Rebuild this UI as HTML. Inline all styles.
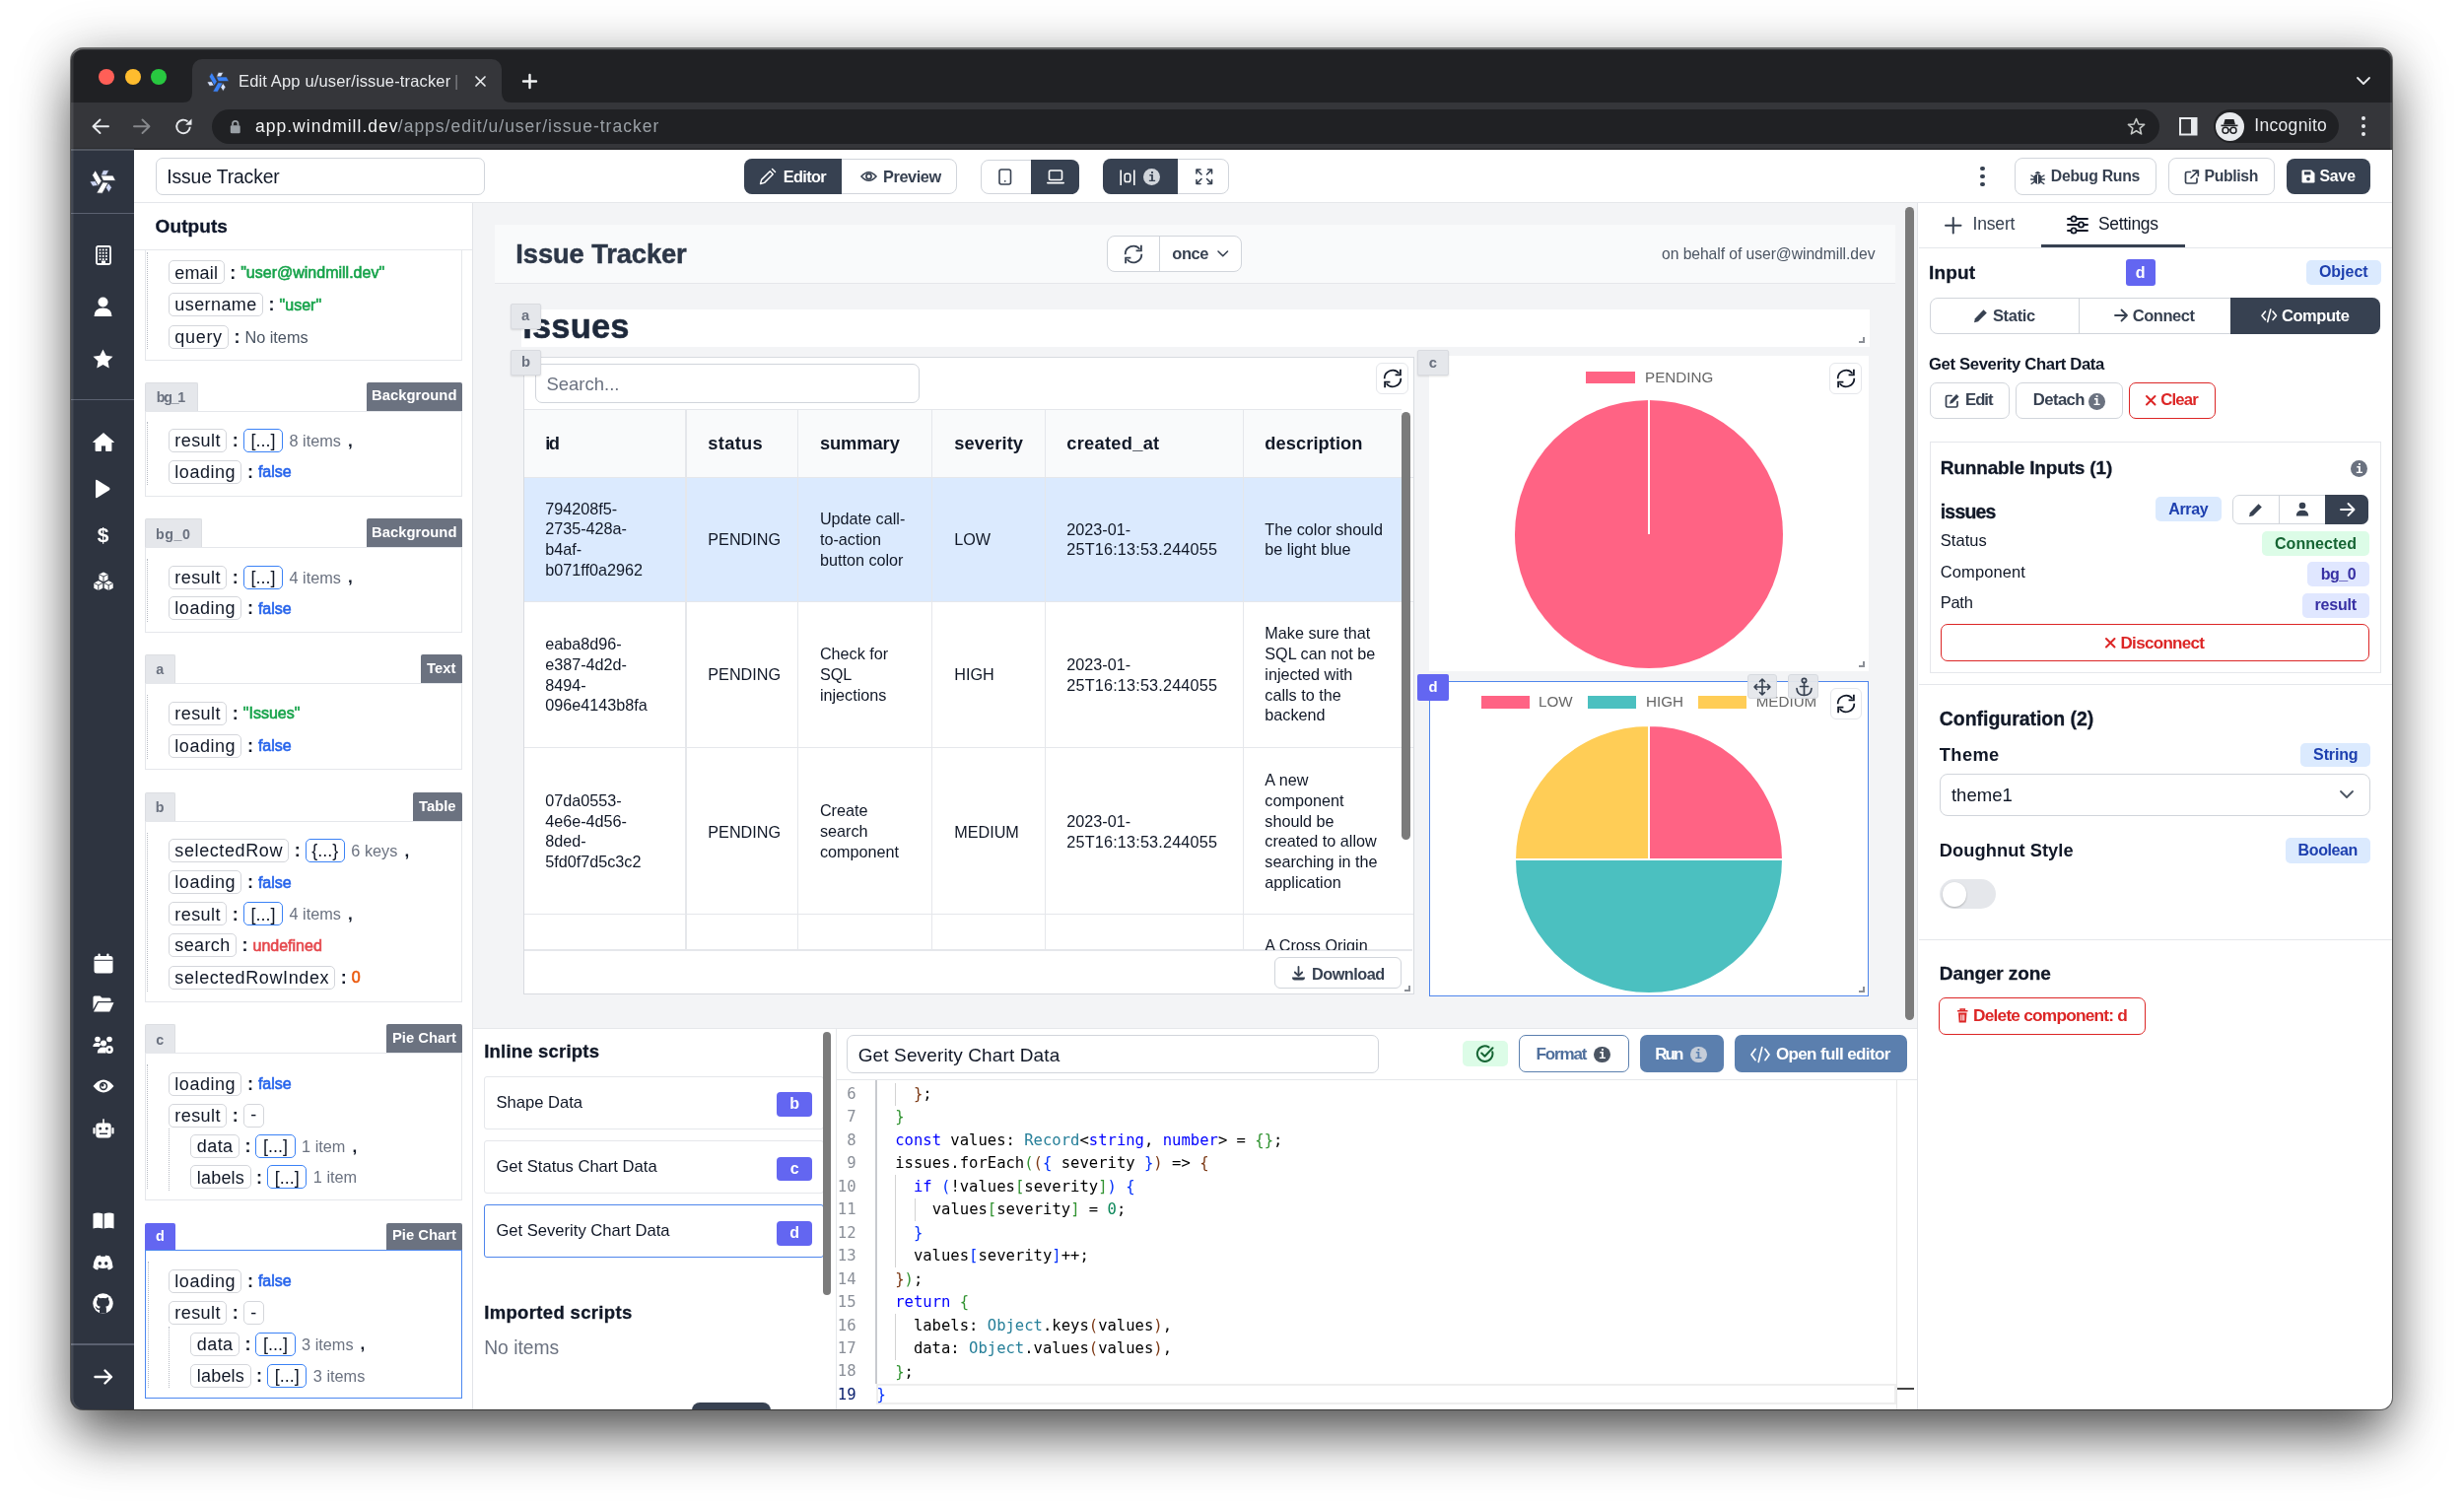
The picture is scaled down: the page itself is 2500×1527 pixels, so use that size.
<!DOCTYPE html>
<html><head><meta charset="utf-8"><title>Edit App u/user/issue-tracker</title>
<style>
html,body{margin:0;padding:0;}
body{width:2500px;height:1527px;overflow:hidden;background:#ffffff;position:relative;font-family:'Liberation Sans',Arial,sans-serif;}
.a{position:absolute;}
.t{position:absolute;white-space:pre;}
svg.a{overflow:visible;}
</style></head><body>
<div class="a" style="left:72.0px;top:49.0px;width:2355.0px;height:1381.0px;border-radius:12px;box-shadow:0 30px 56px -4px rgba(0,0,0,0.62), 0 2px 50px 4px rgba(0,0,0,0.18), 0 0 0 1px rgba(0,0,0,0.5);background:#202124;"></div>
<div class="a" id="win" style="left:0;top:0;width:2500px;height:1527px;clip-path:inset(49px 73px 97px 72px round 12px);will-change:transform;">
<div class="a" style="left:72.0px;top:49.0px;width:2355.0px;height:55.0px;background:#202124;"></div>
<div class="a" style="left:195.0px;top:60.0px;width:314.0px;height:45.0px;background:#35363a;border-radius:10px 10px 0 0;"></div>
<svg class="a" style="left:185.0px;top:94.0px;" width="10.0" height="10.0" viewBox="0 0 10.00 10.00"><path d="M0 10 Q10 10 10 0 L10 10 Z" fill="#35363a"/></svg>
<svg class="a" style="left:509.0px;top:94.0px;" width="10.0" height="10.0" viewBox="0 0 10.00 10.00"><path d="M10 10 Q0 10 0 0 L0 10 Z" fill="#35363a"/></svg>
<div class="a" style="left:100.3px;top:69.8px;width:16.0px;height:16.0px;background:#ff5f57;border-radius:50%;"></div>
<div class="a" style="left:126.5px;top:69.8px;width:16.0px;height:16.0px;background:#febc2e;border-radius:50%;"></div>
<div class="a" style="left:152.6px;top:69.8px;width:16.0px;height:16.0px;background:#28c840;border-radius:50%;"></div>
<svg class="a" style="left:205.0px;top:66.5px;transform:scale(0.84);transform-origin:16px 16px;" width="32.0" height="32.0" viewBox="-16 -16 32 32"><g transform="rotate(0)"><path d="M0.64 -11.27 L6.59 -11.27 L3.83 -5.95 L-1.7 -5.95 Z" fill="#d6e2fb" stroke="#35363a" stroke-width="0.7" stroke-linejoin="round"/><path d="M-1.91 -5.95 L10.63 -5.95 L13.4 -0.64 L0.64 -0.64 Z" fill="#3b82f6" stroke="#35363a" stroke-width="0.7" stroke-linejoin="round"/></g><g transform="rotate(120)"><path d="M0.64 -11.27 L6.59 -11.27 L3.83 -5.95 L-1.7 -5.95 Z" fill="#d6e2fb" stroke="#35363a" stroke-width="0.7" stroke-linejoin="round"/><path d="M-1.91 -5.95 L10.63 -5.95 L13.4 -0.64 L0.64 -0.64 Z" fill="#3b82f6" stroke="#35363a" stroke-width="0.7" stroke-linejoin="round"/></g><g transform="rotate(240)"><path d="M0.64 -11.27 L6.59 -11.27 L3.83 -5.95 L-1.7 -5.95 Z" fill="#d6e2fb" stroke="#35363a" stroke-width="0.7" stroke-linejoin="round"/><path d="M-1.91 -5.95 L10.63 -5.95 L13.4 -0.64 L0.64 -0.64 Z" fill="#3b82f6" stroke="#35363a" stroke-width="0.7" stroke-linejoin="round"/></g></svg>
<div class="t" style="left:242.0px;top:73.5px;font-size:16.5px;line-height:16.5px;font-weight:400;color:#e8eaed;font-family:'Liberation Sans', Arial, sans-serif;letter-spacing:0.15px;">Edit App u/user/issue-tracker</div>
<div class="t" style="left:461.0px;top:73.5px;font-size:16.5px;line-height:16.5px;font-weight:400;color:#7d7f83;font-family:'Liberation Sans', Arial, sans-serif;">|</div>
<svg class="a" style="left:482.0px;top:77.0px;" width="11.0" height="11.0" viewBox="0 0 11.00 11.00"><path d="M1 1 L10 10 M10 1 L1 10" stroke="#e8eaed" stroke-width="1.7" stroke-linecap="round"/></svg>
<svg class="a" style="left:529.5px;top:74.5px;" width="15.0" height="15.0" viewBox="0 0 15.00 15.00"><path d="M7.5 1 V14 M1 7.5 H14" stroke="#f1f3f4" stroke-width="2.4" stroke-linecap="round"/></svg>
<svg class="a" style="left:2391.0px;top:78.0px;" width="14.0" height="8.0" viewBox="0 0 14.00 8.00"><path d="M1 1 L7 7 L13 1" stroke="#e8eaed" stroke-width="1.8" fill="none" stroke-linecap="round" stroke-linejoin="round"/></svg>
<div class="a" style="left:72.0px;top:104.0px;width:2355.0px;height:48.0px;background:#35363a;"></div>
<div class="a" style="left:72.0px;top:150.4px;width:2355.0px;height:1.2px;background:#2c2d30;"></div>
<svg class="a" style="left:93.0px;top:119.5px;" width="18.0" height="16.5" viewBox="0 0 18.00 16.50"><path d="M17 8.25 H2 M8.5 1.5 L1.5 8.25 L8.5 15" stroke="#e8eaed" stroke-width="1.9" fill="none" stroke-linecap="round" stroke-linejoin="round"/></svg>
<svg class="a" style="left:135.0px;top:119.5px;" width="18.0" height="16.5" viewBox="0 0 18.00 16.50"><path d="M1 8.25 H16 M9.5 1.5 L16.5 8.25 L9.5 15" stroke="#86888c" stroke-width="1.9" fill="none" stroke-linecap="round" stroke-linejoin="round"/></svg>
<svg class="a" style="left:176.5px;top:118.5px;" width="19.0" height="19.0" viewBox="0 0 19.00 19.00"><path d="M15.8 9.8 A6.8 6.8 0 1 1 13.6 4.4" stroke="#e8eaed" stroke-width="1.9" fill="none"/><path d="M17.5 1.5 V7.8 H11.2 Z" fill="#e8eaed"/></svg>
<div class="a" style="left:215.0px;top:110.5px;width:1976.0px;height:35.0px;background:#202124;border-radius:18px;"></div>
<svg class="a" style="left:232.5px;top:121.0px;" width="11.5" height="14.5" viewBox="0 0 11.50 14.50"><path d="M3 6.5 V4.6 A2.75 2.75 0 0 1 8.5 4.6 V6.5" stroke="#9aa0a6" stroke-width="1.7" fill="none"/><rect x="0.8" y="6.3" width="9.9" height="8" rx="1.3" fill="#9aa0a6"/></svg>
<div class="t" style="left:259.0px;top:119.6px;font-size:17.5px;line-height:17.5px;font-weight:400;color:#f4f5f6;font-family:'Liberation Sans', Arial, sans-serif;letter-spacing:1.01px;">app.windmill.dev</div>
<div class="t" style="left:403.8px;top:119.6px;font-size:17.5px;line-height:17.5px;font-weight:400;color:#9aa0a6;font-family:'Liberation Sans', Arial, sans-serif;letter-spacing:1.00px;">/apps/edit/u/user/issue-tracker</div>
<svg class="a" style="left:2158.0px;top:119.0px;" width="19.0" height="19.0" viewBox="0 0 19.00 19.00"><path d="M9.5 1.6 L11.8 7 L17.6 7.4 L13.2 11.2 L14.6 16.9 L9.5 13.8 L4.4 16.9 L5.8 11.2 L1.4 7.4 L7.2 7 Z" stroke="#c4c7c5" stroke-width="1.6" fill="none" stroke-linejoin="round"/></svg>
<svg class="a" style="left:2211.0px;top:118.5px;" width="18.5" height="18.5" viewBox="0 0 18.50 18.50"><rect x="1" y="1" width="16.5" height="16.5" fill="none" stroke="#e8eaed" stroke-width="2"/><rect x="12" y="1" width="5.5" height="16.5" fill="#e8eaed"/></svg>
<div class="a" style="left:2246.0px;top:111.4px;width:126.5px;height:33.5px;background:#202124;border-radius:17px;"></div>
<div class="a" style="left:2247.5px;top:113.5px;width:29.0px;height:29.0px;background:#e8eaed;border-radius:50%;"></div>
<svg class="a" style="left:2250.0px;top:116.0px;" width="24.0" height="24.0" viewBox="0 0 24.00 24.00"><path d="M7.5 5 L16.5 5 L18 10.5 L6 10.5 Z" fill="#202124"/><rect x="3.5" y="10.6" width="17" height="1.6" fill="#202124"/><circle cx="8" cy="16.3" r="3" fill="none" stroke="#202124" stroke-width="1.5"/><circle cx="16" cy="16.3" r="3" fill="none" stroke="#202124" stroke-width="1.5"/><path d="M11 16 Q12 15.2 13 16" stroke="#202124" stroke-width="1.3" fill="none"/></svg>
<div class="t" style="left:2287.2px;top:119.4px;font-size:17.5px;line-height:17.5px;font-weight:400;color:#e8eaed;font-family:'Liberation Sans', Arial, sans-serif;letter-spacing:0.33px;">Incognito</div>
<div class="a" style="left:2396.1px;top:118.1px;width:3.8px;height:3.8px;background:#e8eaed;border-radius:50%;"></div>
<div class="a" style="left:2396.1px;top:126.1px;width:3.8px;height:3.8px;background:#e8eaed;border-radius:50%;"></div>
<div class="a" style="left:2396.1px;top:134.1px;width:3.8px;height:3.8px;background:#e8eaed;border-radius:50%;"></div>
<div class="a" style="left:72.0px;top:151.8px;width:2355.0px;height:1278.2px;background:#ffffff;"></div>
<div class="a" style="left:136.0px;top:151.8px;width:2291.0px;height:53.2px;background:#ffffff;border-bottom:1px solid #e5e7eb;"></div>
<div class="a" style="left:157.6px;top:159.8px;width:334.4px;height:37.9px;border:1px solid #d1d5db;border-radius:7px;background:#fff;box-sizing:border-box;"></div>
<div class="t" style="left:169.2px;top:169.8px;font-size:19.3px;line-height:19.3px;font-weight:400;color:#111827;font-family:'Liberation Sans', Arial, sans-serif;letter-spacing:-0.10px;">Issue Tracker</div>
<div class="a" style="left:755.0px;top:161.0px;width:216.0px;height:36.0px;border:1px solid #d1d5db;border-radius:8px;background:#fff;box-sizing:border-box;"></div>
<div class="a" style="left:754.5px;top:161.0px;width:99.5px;height:36.0px;background:#374151;border-radius:8px 0 0 8px;"></div>
<svg class="a" style="left:770.3px;top:170.3px;" width="18.0" height="18.0" viewBox="0 0 24 24"><g stroke="#fff" stroke-width="1.9" fill="none" stroke-linecap="round" stroke-linejoin="round"><path d="M18 2 L22 6"/><path d="M7.5 20.5 L19 9 L15 5 L3.5 16.5 L2 22 Z"/></g></svg>
<div class="t" style="left:794.8px;top:170.7px;font-size:16.3px;line-height:16.3px;font-weight:700;color:#ffffff;font-family:'Liberation Sans', Arial, sans-serif;letter-spacing:-0.66px;">Editor</div>
<svg class="a" style="left:872.5px;top:173.0px;" width="17.0" height="12.0" viewBox="0 0 17.00 12.00"><path d="M1 6 Q8.5 -2.5 16 6 Q8.5 14.5 1 6 Z" stroke="#374151" stroke-width="1.6" fill="none"/><circle cx="8.5" cy="6" r="2.6" stroke="#374151" stroke-width="1.6" fill="none"/></svg>
<div class="t" style="left:896.0px;top:170.7px;font-size:16.3px;line-height:16.3px;font-weight:700;color:#374151;font-family:'Liberation Sans', Arial, sans-serif;letter-spacing:-0.40px;">Preview</div>
<div class="a" style="left:995.0px;top:161.5px;width:100.0px;height:35.0px;border:1px solid #d1d5db;border-radius:8px;background:#fff;box-sizing:border-box;"></div>
<div class="a" style="left:1046.0px;top:161.5px;width:49.0px;height:35.0px;background:#374151;border-radius:0 8px 8px 0;"></div>
<svg class="a" style="left:1013.0px;top:171.0px;" width="14.0" height="17.0" viewBox="0 0 14.00 17.00"><rect x="1" y="1" width="11.5" height="15" rx="2" stroke="#374151" stroke-width="1.6" fill="none"/><circle cx="6.75" cy="12.8" r="0.9" fill="#374151"/></svg>
<svg class="a" style="left:1062.0px;top:172.0px;" width="18.0" height="15.0" viewBox="0 0 18.00 15.00"><rect x="2.5" y="1" width="13" height="9.5" rx="1.3" stroke="#fff" stroke-width="1.6" fill="none"/><path d="M0.8 13.6 H17.2" stroke="#fff" stroke-width="1.6" stroke-linecap="round"/></svg>
<div class="a" style="left:1119.0px;top:161.0px;width:128.0px;height:36.0px;border:1px solid #d1d5db;border-radius:8px;background:#fff;box-sizing:border-box;"></div>
<div class="a" style="left:1119.0px;top:161.0px;width:76.0px;height:36.0px;background:#374151;border-radius:8px 0 0 8px;"></div>
<svg class="a" style="left:1136.0px;top:171.5px;" width="16.0" height="16.5" viewBox="0 0 16.00 16.50"><path d="M1.2 0.5 V16 M14.8 0.5 V16" stroke="#fff" stroke-width="1.6"/><rect x="5.2" y="4.2" width="5.6" height="8.4" rx="1.8" stroke="#fff" stroke-width="1.5" fill="none"/></svg>
<div class="a" style="left:1160.2px;top:171.2px;width:17.0px;height:17.0px;background:#d1d5db;border-radius:50%;"></div>
<div class="t" style="left:1164.9px;top:173.8px;font-size:12.5px;line-height:12.5px;font-weight:700;color:#374151;font-family:'DejaVu Sans Mono', 'Liberation Mono', monospace;">i</div>
<svg class="a" style="left:1212.5px;top:171.0px;" width="17.5" height="16.5" viewBox="0 0 17.50 16.50"><g stroke="#374151" stroke-width="1.6" fill="none" stroke-linecap="round" stroke-linejoin="round"><path d="M1 5 V1 H5 M1 1 L6 6"/><path d="M16.5 5 V1 H12.5 M16.5 1 L11.5 6"/><path d="M1 11.5 V15.5 H5 M1 15.5 L6 10.5"/><path d="M16.5 11.5 V15.5 H12.5 M16.5 15.5 L11.5 10.5"/></g></svg>
<div class="a" style="left:2009.4px;top:169.0px;width:4.4px;height:4.4px;background:#374151;border-radius:50%;"></div>
<div class="a" style="left:2009.4px;top:177.0px;width:4.4px;height:4.4px;background:#374151;border-radius:50%;"></div>
<div class="a" style="left:2009.4px;top:185.0px;width:4.4px;height:4.4px;background:#374151;border-radius:50%;"></div>
<div class="a" style="left:2043.5px;top:160.0px;width:144.5px;height:38.0px;border:1px solid #d1d5db;border-radius:8px;background:#fff;box-sizing:border-box;"></div>
<svg class="a" style="left:2060.0px;top:171.5px;" width="15.0" height="15.5" viewBox="0 0 15.00 15.50"><g fill="#374151"><ellipse cx="7.5" cy="9.5" rx="4.2" ry="5.3"/><path d="M4.5 4 Q7.5 0.2 10.5 4 Z"/></g><g stroke="#374151" stroke-width="1.4" stroke-linecap="round"><path d="M1 6 L3.6 7.5 M14 6 L11.4 7.5 M0.6 10 H3.4 M14.4 10 H11.6 M1.2 14.5 L3.8 12.6 M13.8 14.5 L11.2 12.6"/></g><path d="M7.5 5.5 V14.5" stroke="#fff" stroke-width="1"/></svg>
<div class="t" style="left:2080.8px;top:171.4px;font-size:15.8px;line-height:15.8px;font-weight:700;color:#374151;font-family:'Liberation Sans', Arial, sans-serif;letter-spacing:-0.27px;">Debug Runs</div>
<div class="a" style="left:2199.7px;top:160.0px;width:108.6px;height:38.0px;border:1px solid #d1d5db;border-radius:8px;background:#fff;box-sizing:border-box;"></div>
<svg class="a" style="left:2215.5px;top:171.5px;" width="15.5" height="15.5" viewBox="0 0 15.50 15.50"><g stroke="#374151" stroke-width="1.7" fill="none" stroke-linecap="round" stroke-linejoin="round"><path d="M6.5 2.5 H3 Q1.5 2.5 1.5 4 V12.5 Q1.5 14 3 14 H11.5 Q13 14 13 12.5 V9"/><path d="M9 1.2 H14.3 V6.5 M14.3 1.2 L7 8.5"/></g></svg>
<div class="t" style="left:2236.6px;top:171.4px;font-size:15.8px;line-height:15.8px;font-weight:700;color:#374151;font-family:'Liberation Sans', Arial, sans-serif;letter-spacing:-0.38px;">Publish</div>
<div class="a" style="left:2319.7px;top:161.0px;width:85.8px;height:35.6px;background:#374151;border-radius:8px;"></div>
<svg class="a" style="left:2335.0px;top:172.0px;" width="14.0" height="14.0" viewBox="0 0 14.00 14.00"><path d="M1.8 0.5 H10.2 L13.5 3.8 V12.2 Q13.5 13.5 12.2 13.5 H1.8 Q0.5 13.5 0.5 12.2 V1.8 Q0.5 0.5 1.8 0.5 Z" fill="#fff"/><rect x="3" y="2.2" width="6.5" height="3.2" fill="#374151"/><circle cx="7" cy="9.6" r="1.9" fill="#374151"/></svg>
<div class="t" style="left:2353.4px;top:171.4px;font-size:15.8px;line-height:15.8px;font-weight:700;color:#ffffff;font-family:'Liberation Sans', Arial, sans-serif;letter-spacing:-0.10px;">Save</div>
<div class="a" style="left:72.0px;top:152.5px;width:64.0px;height:1277.5px;background:#2e3440;"></div>
<div class="a" style="left:72.0px;top:151.3px;width:64.0px;height:1.3px;background:#50555f;"></div>
<div class="a" style="left:72.0px;top:215.5px;width:64.0px;height:1.3px;background:#5b6170;"></div>
<div class="a" style="left:72.0px;top:405.2px;width:64.0px;height:1.3px;background:#5b6170;"></div>
<div class="a" style="left:72.0px;top:1363.3px;width:64.0px;height:1.3px;background:#5b6170;"></div>
<svg class="a" style="left:88.4px;top:167.9px;" width="32.0" height="32.0" viewBox="-16 -16 32 32"><g transform="rotate(0)"><path d="M0.64 -11.27 L6.59 -11.27 L3.83 -5.95 L-1.7 -5.95 Z" fill="#cdd6f4" stroke="#2e3440" stroke-width="0.7" stroke-linejoin="round"/><path d="M-1.91 -5.95 L10.63 -5.95 L13.4 -0.64 L0.64 -0.64 Z" fill="#ffffff" stroke="#2e3440" stroke-width="0.7" stroke-linejoin="round"/></g><g transform="rotate(120)"><path d="M0.64 -11.27 L6.59 -11.27 L3.83 -5.95 L-1.7 -5.95 Z" fill="#cdd6f4" stroke="#2e3440" stroke-width="0.7" stroke-linejoin="round"/><path d="M-1.91 -5.95 L10.63 -5.95 L13.4 -0.64 L0.64 -0.64 Z" fill="#ffffff" stroke="#2e3440" stroke-width="0.7" stroke-linejoin="round"/></g><g transform="rotate(240)"><path d="M0.64 -11.27 L6.59 -11.27 L3.83 -5.95 L-1.7 -5.95 Z" fill="#cdd6f4" stroke="#2e3440" stroke-width="0.7" stroke-linejoin="round"/><path d="M-1.91 -5.95 L10.63 -5.95 L13.4 -0.64 L0.64 -0.64 Z" fill="#ffffff" stroke="#2e3440" stroke-width="0.7" stroke-linejoin="round"/></g></svg>
<svg class="a" style="left:96.5px;top:248.6px;" width="16.0" height="20.0" viewBox="0 0 16.00 20.00"><rect x="1" y="1" width="14" height="18" rx="1.5" fill="none" stroke="#fff" stroke-width="1.8"/><rect x="3.6" y="3.6" width="1.8" height="1.8" fill="#fff"/><rect x="3.6" y="6.8" width="1.8" height="1.8" fill="#fff"/><rect x="3.6" y="10.0" width="1.8" height="1.8" fill="#fff"/><rect x="3.6" y="13.2" width="1.8" height="1.8" fill="#fff"/><rect x="6.8" y="3.6" width="1.8" height="1.8" fill="#fff"/><rect x="6.8" y="6.8" width="1.8" height="1.8" fill="#fff"/><rect x="6.8" y="10.0" width="1.8" height="1.8" fill="#fff"/><rect x="6.8" y="13.2" width="1.8" height="1.8" fill="#fff"/><rect x="10.0" y="3.6" width="1.8" height="1.8" fill="#fff"/><rect x="10.0" y="6.8" width="1.8" height="1.8" fill="#fff"/><rect x="10.0" y="10.0" width="1.8" height="1.8" fill="#fff"/><rect x="10.0" y="13.2" width="1.8" height="1.8" fill="#fff"/><rect x="6" y="15.5" width="4" height="3.5" fill="#fff"/></svg>
<svg class="a" style="left:95.0px;top:300.5px;" width="19.0" height="20.0" viewBox="0 0 19.00 20.00"><circle cx="9.5" cy="5.5" r="5" fill="#fff"/><path d="M0.5 20 Q0.5 11.5 9.5 11.5 Q18.5 11.5 18.5 20 Z" fill="#fff"/></svg>
<svg class="a" style="left:94.0px;top:354.0px;" width="21.0" height="20.0" viewBox="0 0 21.00 20.00"><path d="M10.5 0.5 L13.6 6.8 L20.5 7.7 L15.5 12.5 L16.7 19.5 L10.5 16.1 L4.3 19.5 L5.5 12.5 L0.5 7.7 L7.4 6.8 Z" fill="#fff"/></svg>
<svg class="a" style="left:93.5px;top:438.8px;" width="22.0" height="19.0" viewBox="0 0 22.00 19.00"><path d="M11 0.5 L21.5 9.5 L19 9.5 L19 18.5 L13.5 18.5 L13.5 13 L8.5 13 L8.5 18.5 L3 18.5 L3 9.5 L0.5 9.5 Z" fill="#fff" stroke="#fff" stroke-width="0.8" stroke-linejoin="round"/></svg>
<svg class="a" style="left:96.3px;top:485.8px;" width="16.0" height="20.0" viewBox="0 0 16.00 20.00"><path d="M2.5 1 Q1 0.2 1 2 V18 Q1 19.8 2.5 19 L15 11.2 Q16.2 10 15 8.8 Z" fill="#fff"/></svg>
<div class="t" style="left:98.7px;top:531.7px;font-size:21px;line-height:21px;font-weight:700;color:#fff;font-family:'Liberation Sans', Arial, sans-serif;">$</div>
<svg class="a" style="left:93.5px;top:580.0px;" width="22.0" height="20.0" viewBox="0 0 22.00 20.00"><g fill="#fff"><path d="M11 0.5 L15.5 2.8 L15.5 8 L11 10.2 L6.5 8 L6.5 2.8 Z"/><path d="M5.8 9.2 L10.3 11.5 L10.3 16.8 L5.8 19 L1.3 16.8 L1.3 11.5 Z"/><path d="M16.2 9.2 L20.7 11.5 L20.7 16.8 L16.2 19 L11.7 16.8 L11.7 11.5 Z"/></g><g stroke="#2e3440" stroke-width="0.9" fill="none"><path d="M6.5 2.8 L11 5 L15.5 2.8 M11 5 V10"/><path d="M1.3 11.5 L5.8 13.7 L10.3 11.5 M5.8 13.7 V19"/><path d="M11.7 11.5 L16.2 13.7 L20.7 11.5 M16.2 13.7 V19"/></g></svg>
<svg class="a" style="left:94.5px;top:966.5px;" width="20.0" height="21.0" viewBox="0 0 20.00 21.00"><rect x="0.5" y="3" width="19" height="17.5" rx="2.5" fill="#fff"/><rect x="4.5" y="0.5" width="2.2" height="5" rx="1" fill="#fff"/><rect x="13.3" y="0.5" width="2.2" height="5" rx="1" fill="#fff"/><rect x="0.5" y="6.8" width="19" height="1" fill="#2e3440"/></svg>
<svg class="a" style="left:93.5px;top:1010.2px;" width="22.0" height="17.0" viewBox="0 0 22.00 17.00"><path d="M0.5 2 Q0.5 0.5 2 0.5 H7.5 L9.5 2.5 H17 Q18.5 2.5 18.5 4 V6 H5 L0.5 14 Z" fill="#fff"/><path d="M5.8 7.3 H21.5 L17.2 16.5 H1 Z" fill="#fff"/></svg>
<svg class="a" style="left:93.5px;top:1051.4px;" width="22.0" height="18.0" viewBox="0 0 22.00 18.00"><g fill="#fff"><circle cx="5" cy="3.5" r="2.8"/><circle cx="17" cy="3.5" r="2.8"/><path d="M0.3 11 Q0.3 7 5 7 Q7.5 7 8.6 8.6 Q7 9.8 6.8 11 Z"/><circle cx="11" cy="7.6" r="3"/><path d="M4.8 17.5 Q4.8 11.5 11 11.5 Q13 11.5 14.2 12.2 Q12.8 14 13.6 17.5 Z"/><circle cx="17" cy="14" r="3.9"/></g><circle cx="17" cy="14" r="1.4" fill="#2e3440"/></svg>
<svg class="a" style="left:93.5px;top:1094.0px;" width="22.0" height="16.0" viewBox="0 0 22.00 16.00"><path d="M0.5 8 Q11 -5 21.5 8 Q11 21 0.5 8 Z" fill="#fff"/><circle cx="11" cy="8" r="4.2" fill="#2e3440"/><circle cx="11" cy="8" r="2.6" fill="#fff"/><circle cx="10" cy="7" r="1.6" fill="#2e3440"/></svg>
<svg class="a" style="left:93.5px;top:1134.5px;" width="22.0" height="20.0" viewBox="0 0 22.00 20.00"><rect x="3.3" y="4.5" width="15.4" height="15" rx="3" fill="#fff"/><rect x="10.2" y="0.3" width="1.6" height="5" fill="#fff"/><rect x="0.4" y="9" width="2.2" height="6.5" rx="1" fill="#fff"/><rect x="19.4" y="9" width="2.2" height="6.5" rx="1" fill="#fff"/><circle cx="7.7" cy="10" r="1.5" fill="#2e3440"/><circle cx="14.3" cy="10" r="1.5" fill="#2e3440"/><rect x="7" y="14.6" width="8" height="1.4" fill="#2e3440"/></svg>
<svg class="a" style="left:93.5px;top:1229.5px;" width="22.0" height="17.0" viewBox="0 0 22.00 17.00"><path d="M0.5 1.5 Q5 -0.3 10.3 1.5 V16.5 Q5 15 0.5 16.5 Z" fill="#fff"/><path d="M21.5 1.5 Q17 -0.3 11.7 1.5 V16.5 Q17 15 21.5 16.5 Z" fill="#fff"/></svg>
<svg class="a" style="left:94.0px;top:1273.0px;" width="21.0" height="16.0" viewBox="0 0 21.00 16.00"><path d="M4 1.5 Q7 0.3 8 0.8 L8.6 2 Q10.5 1.7 12.4 2 L13 0.8 Q14 0.3 17 1.5 Q20.5 7 20.6 13 Q18.5 15 16 15.5 L14.8 13.6 Q16.3 13 17 12.3 Q10.5 15.5 4 12.3 Q4.7 13 6.2 13.6 L5 15.5 Q2.5 15 0.4 13 Q0.5 7 4 1.5 Z" fill="#fff"/><ellipse cx="7.3" cy="8.8" rx="1.7" ry="1.9" fill="#2e3440"/><ellipse cx="13.7" cy="8.8" rx="1.7" ry="1.9" fill="#2e3440"/></svg>
<svg class="a" style="left:94.0px;top:1311.5px;" width="21.0" height="21.0" viewBox="0 0 21.00 21.00"><circle cx="10.5" cy="10.5" r="10.2" fill="#fff"/><path d="M7 20.5 V17 Q4 17.5 3.3 15 Q3 14 2.2 13.6 Q3.5 13.2 4.3 14.5 Q5.3 15.8 7.2 15.2 Q7.3 14.3 7.9 13.8 Q4 13.3 4 9.3 Q4 7.7 5 6.8 Q4.6 5.5 5.1 4.2 Q6.4 4.2 7.6 5.3 Q10.5 4.5 13.4 5.3 Q14.6 4.2 15.9 4.2 Q16.4 5.5 16 6.8 Q17 7.7 17 9.3 Q17 13.3 13.1 13.8 Q13.9 14.5 13.9 15.8 V20.5 Z" fill="#2e3440"/></svg>
<svg class="a" style="left:94.5px;top:1389.2px;" width="20.0" height="16.0" viewBox="0 0 20.00 16.00"><path d="M1.5 8 H18 M11.5 1.5 L18 8 L11.5 14.5" stroke="#fff" stroke-width="2.4" fill="none" stroke-linecap="round" stroke-linejoin="round"/></svg>
<div class="a" style="left:136.0px;top:205.5px;width:344.0px;height:1224.5px;background:#ffffff;border-right:1.5px solid #e2e4e8;box-sizing:border-box;"></div>
<div class="a" style="left:147.0px;top:240.0px;width:321.6px;height:126.0px;border:1.3px solid #e5e7eb;background:#fff;box-sizing:border-box;"></div>
<div class="a" style="left:148.8px;top:256.0px;width:1.0px;height:98.0px;border-left:1px dotted #b8bcc4;"></div>
<div class="a" style="left:136.0px;top:205.5px;width:342.5px;height:48.8px;background:#fff;border-bottom:1.3px solid #e5e7eb;box-sizing:border-box;"></div>
<div class="t" style="left:157.6px;top:220.4px;font-size:19px;line-height:19px;font-weight:700;color:#0f172a;font-family:'Liberation Sans', Arial, sans-serif;letter-spacing:0.08px;-webkit-text-stroke:0.3px #0f172a;">Outputs</div>
<div class="a" style="left:170.5px;top:264.4px;width:57.2px;height:24.0px;border:1px solid #d4d6db;border-radius:5px;background:#fff;box-sizing:border-box;"></div>
<div class="t" style="left:177.3px;top:267.5px;font-size:18px;line-height:18px;font-weight:400;color:#111827;font-family:'Liberation Sans', Arial, sans-serif;letter-spacing:0.15px;">email</div>
<div class="t" style="left:233.2px;top:267.5px;font-size:18px;line-height:18px;font-weight:700;color:#111827;font-family:'Liberation Sans', Arial, sans-serif;">:</div>
<div class="t" style="left:244.2px;top:268.7px;font-size:16px;line-height:16px;font-weight:400;color:#16a34a;font-family:'Liberation Sans', Arial, sans-serif;-webkit-text-stroke:0.6px #16a34a;">"user@windmill.dev"</div>
<div class="a" style="left:170.5px;top:297.3px;width:96.6px;height:24.0px;border:1px solid #d4d6db;border-radius:5px;background:#fff;box-sizing:border-box;"></div>
<div class="t" style="left:177.3px;top:300.4px;font-size:18px;line-height:18px;font-weight:400;color:#111827;font-family:'Liberation Sans', Arial, sans-serif;letter-spacing:0.42px;">username</div>
<div class="t" style="left:272.6px;top:300.4px;font-size:18px;line-height:18px;font-weight:700;color:#111827;font-family:'Liberation Sans', Arial, sans-serif;">:</div>
<div class="t" style="left:283.6px;top:301.6px;font-size:16px;line-height:16px;font-weight:400;color:#16a34a;font-family:'Liberation Sans', Arial, sans-serif;-webkit-text-stroke:0.6px #16a34a;">"user"</div>
<div class="a" style="left:170.5px;top:330.0px;width:61.4px;height:24.0px;border:1px solid #d4d6db;border-radius:5px;background:#fff;box-sizing:border-box;"></div>
<div class="t" style="left:177.3px;top:333.1px;font-size:18px;line-height:18px;font-weight:400;color:#111827;font-family:'Liberation Sans', Arial, sans-serif;letter-spacing:0.69px;">query</div>
<div class="t" style="left:237.4px;top:333.1px;font-size:18px;line-height:18px;font-weight:700;color:#111827;font-family:'Liberation Sans', Arial, sans-serif;">:</div>
<div class="t" style="left:248.4px;top:334.0px;font-size:16.3px;line-height:16.3px;font-weight:400;color:#4b5563;font-family:'Liberation Sans', Arial, sans-serif;">No items</div>
<div class="a" style="left:147.0px;top:387.7px;width:53.6px;height:29.3px;background:#e5e7eb;border:1px solid #dcdee2;border-bottom:none;border-radius:2px 2px 0 0;box-sizing:border-box;"></div>
<div class="t" style="left:158.7px;top:395.9px;font-size:14.3px;line-height:14.3px;font-weight:700;color:#6b7280;font-family:'Liberation Sans', Arial, sans-serif;letter-spacing:-1.26px;">bg_1</div>
<div class="a" style="left:372.0px;top:387.7px;width:96.6px;height:29.3px;background:#6b7280;border-radius:2px 2px 0 0;"></div>
<div class="t" style="left:377.1px;top:394.3px;font-size:14.8px;line-height:14.8px;font-weight:700;color:#ffffff;font-family:'Liberation Sans', Arial, sans-serif;">Background</div>
<div class="a" style="left:147.0px;top:416.5px;width:321.6px;height:87.2px;border:1.3px solid #e5e7eb;background:#fff;box-sizing:border-box;"></div>
<div class="a" style="left:148.8px;top:428.0px;width:1.0px;height:64.0px;border-left:1px dotted #b8bcc4;"></div>
<div class="a" style="left:170.5px;top:435.3px;width:59.8px;height:24.0px;border:1px solid #d4d6db;border-radius:5px;background:#fff;box-sizing:border-box;"></div>
<div class="t" style="left:177.3px;top:438.4px;font-size:18px;line-height:18px;font-weight:400;color:#111827;font-family:'Liberation Sans', Arial, sans-serif;letter-spacing:0.44px;">result</div>
<div class="t" style="left:235.8px;top:438.4px;font-size:18px;line-height:18px;font-weight:700;color:#111827;font-family:'Liberation Sans', Arial, sans-serif;">:</div>
<div class="a" style="left:246.8px;top:435.3px;width:40.2px;height:24.0px;border:1.5px solid #3b82f6;border-radius:5px;background:#fff;box-sizing:border-box;"></div>
<div class="t" style="left:254.4px;top:438.4px;font-size:18px;line-height:18px;font-weight:400;color:#111827;font-family:'Liberation Sans', Arial, sans-serif;">[...]</div>
<div class="t" style="left:293.5px;top:439.3px;font-size:16.3px;line-height:16.3px;font-weight:400;color:#6b7280;font-family:'Liberation Sans', Arial, sans-serif;">8 items</div>
<div class="t" style="left:353.0px;top:438.7px;font-size:17px;line-height:17px;font-weight:700;color:#111827;font-family:'Liberation Sans', Arial, sans-serif;">,</div>
<div class="a" style="left:170.5px;top:467.0px;width:74.9px;height:24.0px;border:1px solid #d4d6db;border-radius:5px;background:#fff;box-sizing:border-box;"></div>
<div class="t" style="left:177.3px;top:470.1px;font-size:18px;line-height:18px;font-weight:400;color:#111827;font-family:'Liberation Sans', Arial, sans-serif;letter-spacing:0.54px;">loading</div>
<div class="t" style="left:250.9px;top:470.1px;font-size:18px;line-height:18px;font-weight:700;color:#111827;font-family:'Liberation Sans', Arial, sans-serif;">:</div>
<div class="t" style="left:261.9px;top:471.3px;font-size:16px;line-height:16px;font-weight:400;color:#2563eb;font-family:'Liberation Sans', Arial, sans-serif;-webkit-text-stroke:0.6px #2563eb;">false</div>
<div class="a" style="left:147.0px;top:526.0px;width:57.6px;height:29.6px;background:#e5e7eb;border:1px solid #dcdee2;border-bottom:none;border-radius:2px 2px 0 0;box-sizing:border-box;"></div>
<div class="t" style="left:158.0px;top:534.5px;font-size:14.3px;line-height:14.3px;font-weight:700;color:#6b7280;font-family:'Liberation Sans', Arial, sans-serif;letter-spacing:0.54px;">bg_0</div>
<div class="a" style="left:372.0px;top:526.0px;width:96.6px;height:29.6px;background:#6b7280;border-radius:2px 2px 0 0;"></div>
<div class="t" style="left:377.1px;top:532.9px;font-size:14.8px;line-height:14.8px;font-weight:700;color:#ffffff;font-family:'Liberation Sans', Arial, sans-serif;">Background</div>
<div class="a" style="left:147.0px;top:555.1px;width:321.6px;height:87.2px;border:1.3px solid #e5e7eb;background:#fff;box-sizing:border-box;"></div>
<div class="a" style="left:148.8px;top:567.0px;width:1.0px;height:64.0px;border-left:1px dotted #b8bcc4;"></div>
<div class="a" style="left:170.5px;top:573.8px;width:59.8px;height:24.0px;border:1px solid #d4d6db;border-radius:5px;background:#fff;box-sizing:border-box;"></div>
<div class="t" style="left:177.3px;top:576.9px;font-size:18px;line-height:18px;font-weight:400;color:#111827;font-family:'Liberation Sans', Arial, sans-serif;letter-spacing:0.44px;">result</div>
<div class="t" style="left:235.8px;top:576.9px;font-size:18px;line-height:18px;font-weight:700;color:#111827;font-family:'Liberation Sans', Arial, sans-serif;">:</div>
<div class="a" style="left:246.8px;top:573.8px;width:40.2px;height:24.0px;border:1.5px solid #3b82f6;border-radius:5px;background:#fff;box-sizing:border-box;"></div>
<div class="t" style="left:254.4px;top:576.9px;font-size:18px;line-height:18px;font-weight:400;color:#111827;font-family:'Liberation Sans', Arial, sans-serif;">[...]</div>
<div class="t" style="left:293.5px;top:577.8px;font-size:16.3px;line-height:16.3px;font-weight:400;color:#6b7280;font-family:'Liberation Sans', Arial, sans-serif;">4 items</div>
<div class="t" style="left:353.0px;top:577.2px;font-size:17px;line-height:17px;font-weight:700;color:#111827;font-family:'Liberation Sans', Arial, sans-serif;">,</div>
<div class="a" style="left:170.5px;top:605.2px;width:74.9px;height:24.0px;border:1px solid #d4d6db;border-radius:5px;background:#fff;box-sizing:border-box;"></div>
<div class="t" style="left:177.3px;top:608.3px;font-size:18px;line-height:18px;font-weight:400;color:#111827;font-family:'Liberation Sans', Arial, sans-serif;letter-spacing:0.54px;">loading</div>
<div class="t" style="left:250.9px;top:608.3px;font-size:18px;line-height:18px;font-weight:700;color:#111827;font-family:'Liberation Sans', Arial, sans-serif;">:</div>
<div class="t" style="left:261.9px;top:609.5px;font-size:16px;line-height:16px;font-weight:400;color:#2563eb;font-family:'Liberation Sans', Arial, sans-serif;-webkit-text-stroke:0.6px #2563eb;">false</div>
<div class="a" style="left:147.0px;top:664.4px;width:30.9px;height:29.1px;background:#e5e7eb;border:1px solid #dcdee2;border-bottom:none;border-radius:2px 2px 0 0;box-sizing:border-box;"></div>
<div class="t" style="left:158.2px;top:672.4px;font-size:14.3px;line-height:14.3px;font-weight:700;color:#6b7280;font-family:'Liberation Sans', Arial, sans-serif;">a</div>
<div class="a" style="left:427.0px;top:664.4px;width:41.6px;height:29.1px;background:#6b7280;border-radius:2px 2px 0 0;"></div>
<div class="t" style="left:433.1px;top:670.8px;font-size:14.8px;line-height:14.8px;font-weight:700;color:#ffffff;font-family:'Liberation Sans', Arial, sans-serif;">Text</div>
<div class="a" style="left:147.0px;top:693.0px;width:321.6px;height:88.4px;border:1.3px solid #e5e7eb;background:#fff;box-sizing:border-box;"></div>
<div class="a" style="left:148.8px;top:705.0px;width:1.0px;height:65.0px;border-left:1px dotted #b8bcc4;"></div>
<div class="a" style="left:170.5px;top:711.7px;width:59.8px;height:24.0px;border:1px solid #d4d6db;border-radius:5px;background:#fff;box-sizing:border-box;"></div>
<div class="t" style="left:177.3px;top:714.8px;font-size:18px;line-height:18px;font-weight:400;color:#111827;font-family:'Liberation Sans', Arial, sans-serif;letter-spacing:0.44px;">result</div>
<div class="t" style="left:235.8px;top:714.8px;font-size:18px;line-height:18px;font-weight:700;color:#111827;font-family:'Liberation Sans', Arial, sans-serif;">:</div>
<div class="t" style="left:246.8px;top:716.0px;font-size:16px;line-height:16px;font-weight:400;color:#16a34a;font-family:'Liberation Sans', Arial, sans-serif;-webkit-text-stroke:0.6px #16a34a;">"Issues"</div>
<div class="a" style="left:170.5px;top:744.7px;width:74.9px;height:24.0px;border:1px solid #d4d6db;border-radius:5px;background:#fff;box-sizing:border-box;"></div>
<div class="t" style="left:177.3px;top:747.8px;font-size:18px;line-height:18px;font-weight:400;color:#111827;font-family:'Liberation Sans', Arial, sans-serif;letter-spacing:0.54px;">loading</div>
<div class="t" style="left:250.9px;top:747.8px;font-size:18px;line-height:18px;font-weight:700;color:#111827;font-family:'Liberation Sans', Arial, sans-serif;">:</div>
<div class="t" style="left:261.9px;top:749.0px;font-size:16px;line-height:16px;font-weight:400;color:#2563eb;font-family:'Liberation Sans', Arial, sans-serif;-webkit-text-stroke:0.6px #2563eb;">false</div>
<div class="a" style="left:147.0px;top:803.5px;width:31.0px;height:29.8px;background:#e5e7eb;border:1px solid #dcdee2;border-bottom:none;border-radius:2px 2px 0 0;box-sizing:border-box;"></div>
<div class="t" style="left:157.8px;top:812.2px;font-size:14.3px;line-height:14.3px;font-weight:700;color:#6b7280;font-family:'Liberation Sans', Arial, sans-serif;">b</div>
<div class="a" style="left:419.0px;top:803.5px;width:49.6px;height:29.8px;background:#6b7280;border-radius:2px 2px 0 0;"></div>
<div class="t" style="left:425.0px;top:810.6px;font-size:14.8px;line-height:14.8px;font-weight:700;color:#ffffff;font-family:'Liberation Sans', Arial, sans-serif;">Table</div>
<div class="a" style="left:147.0px;top:832.8px;width:321.6px;height:184.6px;border:1.3px solid #e5e7eb;background:#fff;box-sizing:border-box;"></div>
<div class="a" style="left:148.8px;top:845.0px;width:1.0px;height:161.0px;border-left:1px dotted #b8bcc4;"></div>
<div class="a" style="left:170.5px;top:851.3px;width:122.8px;height:24.0px;border:1px solid #d4d6db;border-radius:5px;background:#fff;box-sizing:border-box;"></div>
<div class="t" style="left:177.3px;top:854.4px;font-size:18px;line-height:18px;font-weight:400;color:#111827;font-family:'Liberation Sans', Arial, sans-serif;letter-spacing:0.61px;">selectedRow</div>
<div class="t" style="left:298.8px;top:854.4px;font-size:18px;line-height:18px;font-weight:700;color:#111827;font-family:'Liberation Sans', Arial, sans-serif;">:</div>
<div class="a" style="left:309.8px;top:851.3px;width:40.0px;height:24.0px;border:1.5px solid #3b82f6;border-radius:5px;background:#fff;box-sizing:border-box;"></div>
<div class="t" style="left:316.3px;top:854.4px;font-size:18px;line-height:18px;font-weight:400;color:#111827;font-family:'Liberation Sans', Arial, sans-serif;">{...}</div>
<div class="t" style="left:356.3px;top:855.3px;font-size:16.3px;line-height:16.3px;font-weight:400;color:#6b7280;font-family:'Liberation Sans', Arial, sans-serif;">6 keys</div>
<div class="t" style="left:410.4px;top:854.7px;font-size:17px;line-height:17px;font-weight:700;color:#111827;font-family:'Liberation Sans', Arial, sans-serif;">,</div>
<div class="a" style="left:170.5px;top:883.3px;width:74.9px;height:24.0px;border:1px solid #d4d6db;border-radius:5px;background:#fff;box-sizing:border-box;"></div>
<div class="t" style="left:177.3px;top:886.4px;font-size:18px;line-height:18px;font-weight:400;color:#111827;font-family:'Liberation Sans', Arial, sans-serif;letter-spacing:0.54px;">loading</div>
<div class="t" style="left:250.9px;top:886.4px;font-size:18px;line-height:18px;font-weight:700;color:#111827;font-family:'Liberation Sans', Arial, sans-serif;">:</div>
<div class="t" style="left:261.9px;top:887.6px;font-size:16px;line-height:16px;font-weight:400;color:#2563eb;font-family:'Liberation Sans', Arial, sans-serif;-webkit-text-stroke:0.6px #2563eb;">false</div>
<div class="a" style="left:170.5px;top:915.4px;width:59.8px;height:24.0px;border:1px solid #d4d6db;border-radius:5px;background:#fff;box-sizing:border-box;"></div>
<div class="t" style="left:177.3px;top:918.5px;font-size:18px;line-height:18px;font-weight:400;color:#111827;font-family:'Liberation Sans', Arial, sans-serif;letter-spacing:0.44px;">result</div>
<div class="t" style="left:235.8px;top:918.5px;font-size:18px;line-height:18px;font-weight:700;color:#111827;font-family:'Liberation Sans', Arial, sans-serif;">:</div>
<div class="a" style="left:246.8px;top:915.4px;width:40.2px;height:24.0px;border:1.5px solid #3b82f6;border-radius:5px;background:#fff;box-sizing:border-box;"></div>
<div class="t" style="left:254.4px;top:918.5px;font-size:18px;line-height:18px;font-weight:400;color:#111827;font-family:'Liberation Sans', Arial, sans-serif;">[...]</div>
<div class="t" style="left:293.5px;top:919.4px;font-size:16.3px;line-height:16.3px;font-weight:400;color:#6b7280;font-family:'Liberation Sans', Arial, sans-serif;">4 items</div>
<div class="t" style="left:353.0px;top:918.8px;font-size:17px;line-height:17px;font-weight:700;color:#111827;font-family:'Liberation Sans', Arial, sans-serif;">,</div>
<div class="a" style="left:170.5px;top:947.3px;width:69.5px;height:24.0px;border:1px solid #d4d6db;border-radius:5px;background:#fff;box-sizing:border-box;"></div>
<div class="t" style="left:177.3px;top:950.4px;font-size:18px;line-height:18px;font-weight:400;color:#111827;font-family:'Liberation Sans', Arial, sans-serif;letter-spacing:0.37px;">search</div>
<div class="t" style="left:245.5px;top:950.4px;font-size:18px;line-height:18px;font-weight:700;color:#111827;font-family:'Liberation Sans', Arial, sans-serif;">:</div>
<div class="t" style="left:256.5px;top:951.6px;font-size:16px;line-height:16px;font-weight:400;color:#e5484d;font-family:'Liberation Sans', Arial, sans-serif;-webkit-text-stroke:0.6px #e5484d;">undefined</div>
<div class="a" style="left:170.5px;top:979.9px;width:169.8px;height:24.0px;border:1px solid #d4d6db;border-radius:5px;background:#fff;box-sizing:border-box;"></div>
<div class="t" style="left:177.3px;top:983.0px;font-size:18px;line-height:18px;font-weight:400;color:#111827;font-family:'Liberation Sans', Arial, sans-serif;letter-spacing:0.61px;">selectedRowIndex</div>
<div class="t" style="left:345.8px;top:983.0px;font-size:18px;line-height:18px;font-weight:700;color:#111827;font-family:'Liberation Sans', Arial, sans-serif;">:</div>
<div class="t" style="left:356.8px;top:984.2px;font-size:16px;line-height:16px;font-weight:400;color:#ea580c;font-family:'Liberation Sans', Arial, sans-serif;-webkit-text-stroke:0.6px #ea580c;">0</div>
<div class="a" style="left:147.0px;top:1039.0px;width:31.0px;height:29.6px;background:#e5e7eb;border:1px solid #dcdee2;border-bottom:none;border-radius:2px 2px 0 0;box-sizing:border-box;"></div>
<div class="t" style="left:158.2px;top:1047.5px;font-size:14.3px;line-height:14.3px;font-weight:700;color:#6b7280;font-family:'Liberation Sans', Arial, sans-serif;">c</div>
<div class="a" style="left:392.3px;top:1039.0px;width:76.3px;height:29.6px;background:#6b7280;border-radius:2px 2px 0 0;"></div>
<div class="t" style="left:398.0px;top:1045.9px;font-size:14.8px;line-height:14.8px;font-weight:700;color:#ffffff;font-family:'Liberation Sans', Arial, sans-serif;">Pie Chart</div>
<div class="a" style="left:147.0px;top:1068.1px;width:321.6px;height:149.9px;border:1.3px solid #e5e7eb;background:#fff;box-sizing:border-box;"></div>
<div class="a" style="left:148.8px;top:1080.0px;width:1.0px;height:126.0px;border-left:1px dotted #b8bcc4;"></div>
<div class="a" style="left:170.5px;top:1088.0px;width:74.9px;height:24.0px;border:1px solid #d4d6db;border-radius:5px;background:#fff;box-sizing:border-box;"></div>
<div class="t" style="left:177.3px;top:1091.1px;font-size:18px;line-height:18px;font-weight:400;color:#111827;font-family:'Liberation Sans', Arial, sans-serif;letter-spacing:0.54px;">loading</div>
<div class="t" style="left:250.9px;top:1091.1px;font-size:18px;line-height:18px;font-weight:700;color:#111827;font-family:'Liberation Sans', Arial, sans-serif;">:</div>
<div class="t" style="left:261.9px;top:1092.3px;font-size:16px;line-height:16px;font-weight:400;color:#2563eb;font-family:'Liberation Sans', Arial, sans-serif;-webkit-text-stroke:0.6px #2563eb;">false</div>
<div class="a" style="left:170.5px;top:1119.6px;width:59.8px;height:24.0px;border:1px solid #d4d6db;border-radius:5px;background:#fff;box-sizing:border-box;"></div>
<div class="t" style="left:177.3px;top:1122.7px;font-size:18px;line-height:18px;font-weight:400;color:#111827;font-family:'Liberation Sans', Arial, sans-serif;letter-spacing:0.44px;">result</div>
<div class="t" style="left:235.8px;top:1122.7px;font-size:18px;line-height:18px;font-weight:700;color:#111827;font-family:'Liberation Sans', Arial, sans-serif;">:</div>
<div class="a" style="left:246.8px;top:1119.6px;width:21.0px;height:24.0px;border:1px solid #d4d6db;border-radius:5px;background:#fff;box-sizing:border-box;"></div>
<div class="t" style="left:254.3px;top:1122.4px;font-size:18px;line-height:18px;font-weight:400;color:#111827;font-family:'Liberation Sans', Arial, sans-serif;">-</div>
<div class="a" style="left:170.6px;top:1145.0px;width:1.0px;height:63.0px;border-left:1px dotted #b8bcc4;"></div>
<div class="a" style="left:193.0px;top:1151.3px;width:49.9px;height:24.0px;border:1px solid #d4d6db;border-radius:5px;background:#fff;box-sizing:border-box;"></div>
<div class="t" style="left:199.8px;top:1154.4px;font-size:18px;line-height:18px;font-weight:400;color:#111827;font-family:'Liberation Sans', Arial, sans-serif;letter-spacing:0.42px;">data</div>
<div class="t" style="left:248.4px;top:1154.4px;font-size:18px;line-height:18px;font-weight:700;color:#111827;font-family:'Liberation Sans', Arial, sans-serif;">:</div>
<div class="a" style="left:259.4px;top:1151.3px;width:40.2px;height:24.0px;border:1.5px solid #3b82f6;border-radius:5px;background:#fff;box-sizing:border-box;"></div>
<div class="t" style="left:267.0px;top:1154.4px;font-size:18px;line-height:18px;font-weight:400;color:#111827;font-family:'Liberation Sans', Arial, sans-serif;">[...]</div>
<div class="t" style="left:306.1px;top:1155.3px;font-size:16.3px;line-height:16.3px;font-weight:400;color:#6b7280;font-family:'Liberation Sans', Arial, sans-serif;">1 item</div>
<div class="t" style="left:357.5px;top:1154.7px;font-size:17px;line-height:17px;font-weight:700;color:#111827;font-family:'Liberation Sans', Arial, sans-serif;">,</div>
<div class="a" style="left:193.0px;top:1182.4px;width:61.6px;height:24.0px;border:1px solid #d4d6db;border-radius:5px;background:#fff;box-sizing:border-box;"></div>
<div class="t" style="left:199.8px;top:1185.5px;font-size:18px;line-height:18px;font-weight:400;color:#111827;font-family:'Liberation Sans', Arial, sans-serif;letter-spacing:0.19px;">labels</div>
<div class="t" style="left:260.1px;top:1185.5px;font-size:18px;line-height:18px;font-weight:700;color:#111827;font-family:'Liberation Sans', Arial, sans-serif;">:</div>
<div class="a" style="left:271.1px;top:1182.4px;width:40.2px;height:24.0px;border:1.5px solid #3b82f6;border-radius:5px;background:#fff;box-sizing:border-box;"></div>
<div class="t" style="left:278.7px;top:1185.5px;font-size:18px;line-height:18px;font-weight:400;color:#111827;font-family:'Liberation Sans', Arial, sans-serif;">[...]</div>
<div class="t" style="left:317.8px;top:1186.4px;font-size:16.3px;line-height:16.3px;font-weight:400;color:#6b7280;font-family:'Liberation Sans', Arial, sans-serif;">1 item</div>
<div class="a" style="left:147.0px;top:1240.8px;width:30.8px;height:27.5px;background:#6366f1;border-radius:2px 2px 0 0;"></div>
<div class="t" style="left:158.0px;top:1246.8px;font-size:14.5px;line-height:14.5px;font-weight:700;color:#ffffff;font-family:'Liberation Sans', Arial, sans-serif;">d</div>
<div class="a" style="left:392.4px;top:1240.8px;width:76.2px;height:27.5px;background:#6b7280;border-radius:2px 2px 0 0;"></div>
<div class="t" style="left:398.0px;top:1245.6px;font-size:14.8px;line-height:14.8px;font-weight:700;color:#ffffff;font-family:'Liberation Sans', Arial, sans-serif;">Pie Chart</div>
<div class="a" style="left:147.0px;top:1268.0px;width:321.6px;height:151.2px;border:1.7px solid #4d88f0;background:#fff;box-sizing:border-box;"></div>
<div class="a" style="left:150.0px;top:1280.0px;width:1.0px;height:128.0px;border-left:1px dotted #b8bcc4;"></div>
<div class="a" style="left:170.5px;top:1288.0px;width:74.9px;height:24.0px;border:1px solid #d4d6db;border-radius:5px;background:#fff;box-sizing:border-box;"></div>
<div class="t" style="left:177.3px;top:1291.1px;font-size:18px;line-height:18px;font-weight:400;color:#111827;font-family:'Liberation Sans', Arial, sans-serif;letter-spacing:0.54px;">loading</div>
<div class="t" style="left:250.9px;top:1291.1px;font-size:18px;line-height:18px;font-weight:700;color:#111827;font-family:'Liberation Sans', Arial, sans-serif;">:</div>
<div class="t" style="left:261.9px;top:1292.3px;font-size:16px;line-height:16px;font-weight:400;color:#2563eb;font-family:'Liberation Sans', Arial, sans-serif;-webkit-text-stroke:0.6px #2563eb;">false</div>
<div class="a" style="left:170.5px;top:1320.2px;width:59.8px;height:24.0px;border:1px solid #d4d6db;border-radius:5px;background:#fff;box-sizing:border-box;"></div>
<div class="t" style="left:177.3px;top:1323.3px;font-size:18px;line-height:18px;font-weight:400;color:#111827;font-family:'Liberation Sans', Arial, sans-serif;letter-spacing:0.44px;">result</div>
<div class="t" style="left:235.8px;top:1323.3px;font-size:18px;line-height:18px;font-weight:700;color:#111827;font-family:'Liberation Sans', Arial, sans-serif;">:</div>
<div class="a" style="left:246.8px;top:1320.2px;width:21.0px;height:24.0px;border:1px solid #d4d6db;border-radius:5px;background:#fff;box-sizing:border-box;"></div>
<div class="t" style="left:254.3px;top:1323.0px;font-size:18px;line-height:18px;font-weight:400;color:#111827;font-family:'Liberation Sans', Arial, sans-serif;">-</div>
<div class="a" style="left:170.6px;top:1346.0px;width:1.0px;height:62.0px;border-left:1px dotted #b8bcc4;"></div>
<div class="a" style="left:193.0px;top:1351.9px;width:49.9px;height:24.0px;border:1px solid #d4d6db;border-radius:5px;background:#fff;box-sizing:border-box;"></div>
<div class="t" style="left:199.8px;top:1355.0px;font-size:18px;line-height:18px;font-weight:400;color:#111827;font-family:'Liberation Sans', Arial, sans-serif;letter-spacing:0.42px;">data</div>
<div class="t" style="left:248.4px;top:1355.0px;font-size:18px;line-height:18px;font-weight:700;color:#111827;font-family:'Liberation Sans', Arial, sans-serif;">:</div>
<div class="a" style="left:259.4px;top:1351.9px;width:40.2px;height:24.0px;border:1.5px solid #3b82f6;border-radius:5px;background:#fff;box-sizing:border-box;"></div>
<div class="t" style="left:267.0px;top:1355.0px;font-size:18px;line-height:18px;font-weight:400;color:#111827;font-family:'Liberation Sans', Arial, sans-serif;">[...]</div>
<div class="t" style="left:306.1px;top:1355.9px;font-size:16.3px;line-height:16.3px;font-weight:400;color:#6b7280;font-family:'Liberation Sans', Arial, sans-serif;">3 items</div>
<div class="t" style="left:365.6px;top:1355.3px;font-size:17px;line-height:17px;font-weight:700;color:#111827;font-family:'Liberation Sans', Arial, sans-serif;">,</div>
<div class="a" style="left:193.0px;top:1383.5px;width:61.6px;height:24.0px;border:1px solid #d4d6db;border-radius:5px;background:#fff;box-sizing:border-box;"></div>
<div class="t" style="left:199.8px;top:1386.6px;font-size:18px;line-height:18px;font-weight:400;color:#111827;font-family:'Liberation Sans', Arial, sans-serif;letter-spacing:0.19px;">labels</div>
<div class="t" style="left:260.1px;top:1386.6px;font-size:18px;line-height:18px;font-weight:700;color:#111827;font-family:'Liberation Sans', Arial, sans-serif;">:</div>
<div class="a" style="left:271.1px;top:1383.5px;width:40.2px;height:24.0px;border:1.5px solid #3b82f6;border-radius:5px;background:#fff;box-sizing:border-box;"></div>
<div class="t" style="left:278.7px;top:1386.6px;font-size:18px;line-height:18px;font-weight:400;color:#111827;font-family:'Liberation Sans', Arial, sans-serif;">[...]</div>
<div class="t" style="left:317.8px;top:1387.5px;font-size:16.3px;line-height:16.3px;font-weight:400;color:#6b7280;font-family:'Liberation Sans', Arial, sans-serif;">3 items</div>
<div class="a" style="left:480.0px;top:205.5px;width:1466.0px;height:837.5px;background:#f3f4f6;"></div>
<div class="a" style="left:1933.2px;top:209.5px;width:8.8px;height:825.5px;background:#7b7b7b;border-radius:5px;"></div>
<div class="a" style="left:502.0px;top:228.0px;width:1420.5px;height:60.3px;background:#f9fafb;border-bottom:1.3px solid #e5e7eb;box-sizing:border-box;"></div>
<div class="t" style="left:523.3px;top:244.2px;font-size:27.3px;line-height:27.3px;font-weight:700;color:#2d3748;font-family:'Liberation Sans', Arial, sans-serif;letter-spacing:-0.09px;-webkit-text-stroke:0.5px #2d3748;">Issue Tracker</div>
<div class="a" style="left:1122.9px;top:238.7px;width:137.4px;height:37.7px;background:#fff;border:1px solid #d1d5db;border-radius:8px;box-sizing:border-box;"></div>
<div class="a" style="left:1176.3px;top:238.7px;width:1.0px;height:37.7px;background:#d1d5db;"></div>
<svg class="a" style="left:1140.2px;top:247.7px;" width="20.0" height="20.0" viewBox="0 0 20 20"><g stroke="#374151" stroke-width="1.8" fill="none" stroke-linecap="butt" stroke-linejoin="miter"><path d="M1.7 10.2 A8.3 8.3 0 0 1 16.4 4.7"/><path d="M17.9 0.8 V6.4 H12.6"/><path d="M18.3 9.8 A8.3 8.3 0 0 1 3.6 15.3"/><path d="M2.1 19.2 V13.6 H7.4"/></g></svg>
<div class="t" style="left:1189.3px;top:249.3px;font-size:16.5px;line-height:16.5px;font-weight:700;color:#374151;font-family:'Liberation Sans', Arial, sans-serif;letter-spacing:-0.50px;">once</div>
<svg class="a" style="left:1234.5px;top:254.0px;" width="11.5" height="7.0" viewBox="0 0 11.50 7.00"><path d="M1 1 L5.75 5.75 L10.5 1" stroke="#374151" stroke-width="1.6" fill="none" stroke-linecap="round" stroke-linejoin="round"/></svg>
<div class="t" style="left:1686.0px;top:249.5px;font-size:15.7px;line-height:15.7px;font-weight:400;color:#4b5563;font-family:'Liberation Sans', Arial, sans-serif;letter-spacing:-0.06px;">on behalf of user@windmill.dev</div>
<div class="a" style="left:528.5px;top:313.7px;width:1368.1px;height:38.3px;background:#ffffff;"></div>
<svg class="a" style="left:1886.0px;top:341.5px;" width="7.0" height="7.0" viewBox="0 0 7.00 7.00"><path d="M6 0 V6 H0 V4 H4 V0 Z" fill="#8b8f96"/></svg>
<div class="t" style="left:530.2px;top:313.7px;font-size:34.5px;line-height:34.5px;font-weight:700;color:#1e293b;font-family:'Liberation Sans', Arial, sans-serif;letter-spacing:0.18px;-webkit-text-stroke:0.5px #1e293b;">Issues</div>
<div class="a" style="left:517.6px;top:307.6px;width:31.0px;height:26.0px;background:#e5e7eb;border:1px solid #d9dbe0;border-radius:2px;box-sizing:border-box;box-shadow:0 1px 2px rgba(0,0,0,0.12);"></div>
<div class="t" style="left:529.0px;top:312.7px;font-size:14.8px;line-height:14.8px;font-weight:700;color:#6b7280;font-family:'Liberation Sans', Arial, sans-serif;">a</div>
<div class="a" style="left:530.6px;top:362.3px;width:904.7px;height:647.2px;background:#fff;border:1.3px solid #d8dbe0;box-sizing:border-box;"></div>
<svg class="a" style="left:1425.0px;top:1000.0px;" width="7.0" height="7.0" viewBox="0 0 7.00 7.00"><path d="M6 0 V6 H0 V4 H4 V0 Z" fill="#8b8f96"/></svg>
<div class="a" style="left:542.7px;top:369.2px;width:390.4px;height:39.5px;background:#fff;border:1.2px solid #d1d5db;border-radius:7px;box-sizing:border-box;"></div>
<div class="t" style="left:554.4px;top:380.5px;font-size:18.5px;line-height:18.5px;font-weight:400;color:#6b7280;font-family:'Liberation Sans', Arial, sans-serif;">Search...</div>
<div class="a" style="left:1396.4px;top:368.4px;width:32.6px;height:32.0px;background:#fff;border:1px solid #e5e7eb;border-radius:6px;box-sizing:border-box;"></div>
<svg class="a" style="left:1402.7px;top:374.4px;" width="20.0" height="20.0" viewBox="0 0 20 20"><g stroke="#111827" stroke-width="1.75" fill="none" stroke-linecap="butt" stroke-linejoin="miter"><path d="M1.7 10.2 A8.3 8.3 0 0 1 16.4 4.7"/><path d="M17.9 0.8 V6.4 H12.6"/><path d="M18.3 9.8 A8.3 8.3 0 0 1 3.6 15.3"/><path d="M2.1 19.2 V13.6 H7.4"/></g></svg>
<div class="a" style="left:531.5px;top:414.8px;width:890.5px;height:69.3px;background:#f9fafb;border-top:1.3px solid #e5e7eb;box-sizing:border-box;"></div>
<div class="a" style="left:531.5px;top:484.1px;width:890.5px;height:126.8px;background:#dbeafe;"></div>
<div class="a" style="left:531.5px;top:483.5px;width:902.5px;height:1.2px;background:#e5e7eb;"></div>
<div class="a" style="left:531.5px;top:610.3px;width:902.5px;height:1.2px;background:#e5e7eb;"></div>
<div class="a" style="left:531.5px;top:757.9px;width:902.5px;height:1.2px;background:#e5e7eb;"></div>
<div class="a" style="left:531.5px;top:926.6px;width:902.5px;height:1.2px;background:#e5e7eb;"></div>
<div class="a" style="left:531.5px;top:963.4px;width:901.5px;height:1.2px;background:#e5e7eb;"></div>
<div class="a" style="left:695.4px;top:414.8px;width:1.2px;height:548.7px;background:#e5e7eb;"></div>
<div class="a" style="left:809.0px;top:414.8px;width:1.2px;height:548.7px;background:#e5e7eb;"></div>
<div class="a" style="left:944.9px;top:414.8px;width:1.2px;height:548.7px;background:#e5e7eb;"></div>
<div class="a" style="left:1060.2px;top:414.8px;width:1.2px;height:548.7px;background:#e5e7eb;"></div>
<div class="a" style="left:1260.7px;top:414.8px;width:1.2px;height:548.7px;background:#e5e7eb;"></div>
<div class="t" style="left:553.2px;top:440.5px;font-size:18.3px;line-height:18.3px;font-weight:700;color:#111827;font-family:'Liberation Sans', Arial, sans-serif;letter-spacing:-1.46px;">id</div>
<div class="t" style="left:718.3px;top:440.5px;font-size:18.3px;line-height:18.3px;font-weight:700;color:#111827;font-family:'Liberation Sans', Arial, sans-serif;letter-spacing:0.32px;">status</div>
<div class="t" style="left:831.9px;top:440.5px;font-size:18.3px;line-height:18.3px;font-weight:700;color:#111827;font-family:'Liberation Sans', Arial, sans-serif;letter-spacing:-0.06px;">summary</div>
<div class="t" style="left:968.2px;top:440.5px;font-size:18.3px;line-height:18.3px;font-weight:700;color:#111827;font-family:'Liberation Sans', Arial, sans-serif;letter-spacing:0.10px;">severity</div>
<div class="t" style="left:1082.3px;top:440.5px;font-size:18.3px;line-height:18.3px;font-weight:700;color:#111827;font-family:'Liberation Sans', Arial, sans-serif;letter-spacing:0.27px;">created_at</div>
<div class="t" style="left:1283.3px;top:440.5px;font-size:18.3px;line-height:18.3px;font-weight:700;color:#111827;font-family:'Liberation Sans', Arial, sans-serif;letter-spacing:0.07px;">description</div>
<div class="t" style="left:553.2px;top:507.5px;font-size:16.2px;line-height:16.2px;font-weight:400;color:#111827;font-family:'Liberation Sans', Arial, sans-serif;">794208f5-</div>
<div class="t" style="left:553.2px;top:528.2px;font-size:16.2px;line-height:16.2px;font-weight:400;color:#111827;font-family:'Liberation Sans', Arial, sans-serif;">2735-428a-</div>
<div class="t" style="left:553.2px;top:549.0px;font-size:16.2px;line-height:16.2px;font-weight:400;color:#111827;font-family:'Liberation Sans', Arial, sans-serif;">b4af-</div>
<div class="t" style="left:553.2px;top:569.7px;font-size:16.2px;line-height:16.2px;font-weight:400;color:#111827;font-family:'Liberation Sans', Arial, sans-serif;">b071ff0a2962</div>
<div class="t" style="left:718.3px;top:539.3px;font-size:16.2px;line-height:16.2px;font-weight:400;color:#111827;font-family:'Liberation Sans', Arial, sans-serif;">PENDING</div>
<div class="t" style="left:831.9px;top:518.3px;font-size:16.2px;line-height:16.2px;font-weight:400;color:#111827;font-family:'Liberation Sans', Arial, sans-serif;">Update call-</div>
<div class="t" style="left:831.9px;top:539.0px;font-size:16.2px;line-height:16.2px;font-weight:400;color:#111827;font-family:'Liberation Sans', Arial, sans-serif;">to-action</div>
<div class="t" style="left:831.9px;top:559.8px;font-size:16.2px;line-height:16.2px;font-weight:400;color:#111827;font-family:'Liberation Sans', Arial, sans-serif;">button color</div>
<div class="t" style="left:968.2px;top:539.3px;font-size:16.2px;line-height:16.2px;font-weight:400;color:#111827;font-family:'Liberation Sans', Arial, sans-serif;">LOW</div>
<div class="t" style="left:1082.3px;top:528.6px;font-size:16.2px;line-height:16.2px;font-weight:400;color:#111827;font-family:'Liberation Sans', Arial, sans-serif;">2023-01-</div>
<div class="t" style="left:1082.3px;top:549.3px;font-size:16.2px;line-height:16.2px;font-weight:400;color:#111827;font-family:'Liberation Sans', Arial, sans-serif;letter-spacing:0.19px;">25T16:13:53.244055</div>
<div class="t" style="left:1283.3px;top:528.6px;font-size:16.2px;line-height:16.2px;font-weight:400;color:#111827;font-family:'Liberation Sans', Arial, sans-serif;">The color should</div>
<div class="t" style="left:1283.3px;top:549.3px;font-size:16.2px;line-height:16.2px;font-weight:400;color:#111827;font-family:'Liberation Sans', Arial, sans-serif;">be light blue</div>
<div class="t" style="left:553.2px;top:645.0px;font-size:16.2px;line-height:16.2px;font-weight:400;color:#111827;font-family:'Liberation Sans', Arial, sans-serif;">eaba8d96-</div>
<div class="t" style="left:553.2px;top:665.7px;font-size:16.2px;line-height:16.2px;font-weight:400;color:#111827;font-family:'Liberation Sans', Arial, sans-serif;">e387-4d2d-</div>
<div class="t" style="left:553.2px;top:686.5px;font-size:16.2px;line-height:16.2px;font-weight:400;color:#111827;font-family:'Liberation Sans', Arial, sans-serif;">8494-</div>
<div class="t" style="left:553.2px;top:707.2px;font-size:16.2px;line-height:16.2px;font-weight:400;color:#111827;font-family:'Liberation Sans', Arial, sans-serif;">096e4143b8fa</div>
<div class="t" style="left:718.3px;top:676.1px;font-size:16.2px;line-height:16.2px;font-weight:400;color:#111827;font-family:'Liberation Sans', Arial, sans-serif;">PENDING</div>
<div class="t" style="left:831.9px;top:655.3px;font-size:16.2px;line-height:16.2px;font-weight:400;color:#111827;font-family:'Liberation Sans', Arial, sans-serif;">Check for</div>
<div class="t" style="left:831.9px;top:676.0px;font-size:16.2px;line-height:16.2px;font-weight:400;color:#111827;font-family:'Liberation Sans', Arial, sans-serif;">SQL</div>
<div class="t" style="left:831.9px;top:696.8px;font-size:16.2px;line-height:16.2px;font-weight:400;color:#111827;font-family:'Liberation Sans', Arial, sans-serif;">injections</div>
<div class="t" style="left:968.2px;top:676.1px;font-size:16.2px;line-height:16.2px;font-weight:400;color:#111827;font-family:'Liberation Sans', Arial, sans-serif;">HIGH</div>
<div class="t" style="left:1082.3px;top:666.2px;font-size:16.2px;line-height:16.2px;font-weight:400;color:#111827;font-family:'Liberation Sans', Arial, sans-serif;">2023-01-</div>
<div class="t" style="left:1082.3px;top:686.9px;font-size:16.2px;line-height:16.2px;font-weight:400;color:#111827;font-family:'Liberation Sans', Arial, sans-serif;letter-spacing:0.19px;">25T16:13:53.244055</div>
<div class="t" style="left:1283.3px;top:634.3px;font-size:16.2px;line-height:16.2px;font-weight:400;color:#111827;font-family:'Liberation Sans', Arial, sans-serif;">Make sure that</div>
<div class="t" style="left:1283.3px;top:655.0px;font-size:16.2px;line-height:16.2px;font-weight:400;color:#111827;font-family:'Liberation Sans', Arial, sans-serif;">SQL can not be</div>
<div class="t" style="left:1283.3px;top:675.8px;font-size:16.2px;line-height:16.2px;font-weight:400;color:#111827;font-family:'Liberation Sans', Arial, sans-serif;">injected with</div>
<div class="t" style="left:1283.3px;top:696.5px;font-size:16.2px;line-height:16.2px;font-weight:400;color:#111827;font-family:'Liberation Sans', Arial, sans-serif;">calls to the</div>
<div class="t" style="left:1283.3px;top:717.3px;font-size:16.2px;line-height:16.2px;font-weight:400;color:#111827;font-family:'Liberation Sans', Arial, sans-serif;">backend</div>
<div class="t" style="left:553.2px;top:803.9px;font-size:16.2px;line-height:16.2px;font-weight:400;color:#111827;font-family:'Liberation Sans', Arial, sans-serif;">07da0553-</div>
<div class="t" style="left:553.2px;top:824.6px;font-size:16.2px;line-height:16.2px;font-weight:400;color:#111827;font-family:'Liberation Sans', Arial, sans-serif;">4e6e-4d56-</div>
<div class="t" style="left:553.2px;top:845.4px;font-size:16.2px;line-height:16.2px;font-weight:400;color:#111827;font-family:'Liberation Sans', Arial, sans-serif;">8ded-</div>
<div class="t" style="left:553.2px;top:866.1px;font-size:16.2px;line-height:16.2px;font-weight:400;color:#111827;font-family:'Liberation Sans', Arial, sans-serif;">5fd0f7d5c3c2</div>
<div class="t" style="left:718.3px;top:835.8px;font-size:16.2px;line-height:16.2px;font-weight:400;color:#111827;font-family:'Liberation Sans', Arial, sans-serif;">PENDING</div>
<div class="t" style="left:831.9px;top:814.3px;font-size:16.2px;line-height:16.2px;font-weight:400;color:#111827;font-family:'Liberation Sans', Arial, sans-serif;">Create</div>
<div class="t" style="left:831.9px;top:835.0px;font-size:16.2px;line-height:16.2px;font-weight:400;color:#111827;font-family:'Liberation Sans', Arial, sans-serif;">search</div>
<div class="t" style="left:831.9px;top:855.8px;font-size:16.2px;line-height:16.2px;font-weight:400;color:#111827;font-family:'Liberation Sans', Arial, sans-serif;">component</div>
<div class="t" style="left:968.2px;top:835.8px;font-size:16.2px;line-height:16.2px;font-weight:400;color:#111827;font-family:'Liberation Sans', Arial, sans-serif;">MEDIUM</div>
<div class="t" style="left:1082.3px;top:825.3px;font-size:16.2px;line-height:16.2px;font-weight:400;color:#111827;font-family:'Liberation Sans', Arial, sans-serif;">2023-01-</div>
<div class="t" style="left:1082.3px;top:846.0px;font-size:16.2px;line-height:16.2px;font-weight:400;color:#111827;font-family:'Liberation Sans', Arial, sans-serif;letter-spacing:0.19px;">25T16:13:53.244055</div>
<div class="t" style="left:1283.3px;top:783.2px;font-size:16.2px;line-height:16.2px;font-weight:400;color:#111827;font-family:'Liberation Sans', Arial, sans-serif;">A new</div>
<div class="t" style="left:1283.3px;top:803.9px;font-size:16.2px;line-height:16.2px;font-weight:400;color:#111827;font-family:'Liberation Sans', Arial, sans-serif;">component</div>
<div class="t" style="left:1283.3px;top:824.7px;font-size:16.2px;line-height:16.2px;font-weight:400;color:#111827;font-family:'Liberation Sans', Arial, sans-serif;">should be</div>
<div class="t" style="left:1283.3px;top:845.4px;font-size:16.2px;line-height:16.2px;font-weight:400;color:#111827;font-family:'Liberation Sans', Arial, sans-serif;">created to allow</div>
<div class="t" style="left:1283.3px;top:866.2px;font-size:16.2px;line-height:16.2px;font-weight:400;color:#111827;font-family:'Liberation Sans', Arial, sans-serif;">searching in the</div>
<div class="t" style="left:1283.3px;top:886.9px;font-size:16.2px;line-height:16.2px;font-weight:400;color:#111827;font-family:'Liberation Sans', Arial, sans-serif;">application</div>
<div class="a" style="left:1262px;top:928px;width:160px;height:35.5px;overflow:hidden;">
<div class="t" style="left:21.3px;top:23.1px;font-size:16.2px;line-height:16.2px;font-weight:400;color:#111827;font-family:'Liberation Sans', Arial, sans-serif;">A Cross Origin</div>
</div>
<div class="a" style="left:1422.0px;top:418.4px;width:9.0px;height:433.6px;background:#7b7b7b;border-radius:4.5px;"></div>
<div class="a" style="left:1293.4px;top:970.7px;width:128.7px;height:32.7px;background:#fff;border:1px solid #d1d5db;border-radius:6px;box-sizing:border-box;"></div>
<svg class="a" style="left:1310.0px;top:979.5px;" width="15.0" height="15.5" viewBox="0 0 15.00 15.50"><g stroke="#374151" stroke-width="1.8" fill="none" stroke-linecap="round" stroke-linejoin="round"><path d="M7.5 1 V10 M3.8 6.5 L7.5 10.2 L11.2 6.5"/></g><path d="M1 11.5 Q1 14.5 3.5 14.5 H11.5 Q14 14.5 14 11.5 Z" fill="#374151"/></svg>
<div class="t" style="left:1331.0px;top:979.5px;font-size:16.3px;line-height:16.3px;font-weight:700;color:#374151;font-family:'Liberation Sans', Arial, sans-serif;letter-spacing:-0.51px;">Download</div>
<div class="a" style="left:517.6px;top:354.5px;width:31.9px;height:26.1px;background:#e5e7eb;border:1px solid #d9dbe0;border-radius:2px;box-sizing:border-box;box-shadow:0 1px 2px rgba(0,0,0,0.12);"></div>
<div class="t" style="left:529.0px;top:359.7px;font-size:14.8px;line-height:14.8px;font-weight:700;color:#6b7280;font-family:'Liberation Sans', Arial, sans-serif;">b</div>
<div class="a" style="left:1450.0px;top:361.0px;width:446.3px;height:320.4px;background:#fff;"></div>
<div class="a" style="left:1609.3px;top:376.8px;width:49.9px;height:12.5px;background:#ff6384;"></div>
<div class="t" style="left:1669.0px;top:375.4px;font-size:15.2px;line-height:15.2px;font-weight:400;color:#666666;font-family:'Liberation Sans', Arial, sans-serif;">PENDING</div>
<div class="a" style="left:1856.2px;top:368.4px;width:33.0px;height:32.0px;background:#fff;border:1px solid #e5e7eb;border-radius:6px;box-sizing:border-box;"></div>
<svg class="a" style="left:1862.7px;top:374.4px;" width="20.0" height="20.0" viewBox="0 0 20 20"><g stroke="#111827" stroke-width="1.75" fill="none" stroke-linecap="butt" stroke-linejoin="miter"><path d="M1.7 10.2 A8.3 8.3 0 0 1 16.4 4.7"/><path d="M17.9 0.8 V6.4 H12.6"/><path d="M18.3 9.8 A8.3 8.3 0 0 1 3.6 15.3"/><path d="M2.1 19.2 V13.6 H7.4"/></g></svg>
<svg class="a" style="left:1536.8px;top:406.2px;" width="272.0" height="272.0" viewBox="0 0 272.00 272.00"><circle cx="136" cy="136" r="136" fill="#ff6384"/><path d="M136 0 V136" stroke="#fff" stroke-width="2"/></svg>
<svg class="a" style="left:1886.0px;top:670.5px;" width="7.0" height="7.0" viewBox="0 0 7.00 7.00"><path d="M6 0 V6 H0 V4 H4 V0 Z" fill="#8b8f96"/></svg>
<div class="a" style="left:1438.0px;top:354.6px;width:31.8px;height:26.8px;background:#e5e7eb;border:1px solid #d9dbe0;border-radius:2px;box-sizing:border-box;box-shadow:0 1px 2px rgba(0,0,0,0.12);"></div>
<div class="t" style="left:1449.8px;top:360.5px;font-size:14.8px;line-height:14.8px;font-weight:700;color:#6b7280;font-family:'Liberation Sans', Arial, sans-serif;">c</div>
<div class="a" style="left:1449.9px;top:690.8px;width:446.1px;height:320.4px;background:#fff;border:1.8px solid #4f86ec;box-sizing:border-box;"></div>
<div class="a" style="left:1502.5px;top:705.9px;width:49.5px;height:13.1px;background:#ff6384;"></div>
<div class="t" style="left:1561.0px;top:704.1px;font-size:15.2px;line-height:15.2px;font-weight:400;color:#666666;font-family:'Liberation Sans', Arial, sans-serif;">LOW</div>
<div class="a" style="left:1611.0px;top:705.9px;width:49.4px;height:13.1px;background:#4bc0c0;"></div>
<div class="t" style="left:1670.0px;top:704.1px;font-size:15.2px;line-height:15.2px;font-weight:400;color:#666666;font-family:'Liberation Sans', Arial, sans-serif;">HIGH</div>
<div class="a" style="left:1722.6px;top:705.9px;width:49.4px;height:13.1px;background:#ffcd56;"></div>
<div class="t" style="left:1781.7px;top:704.1px;font-size:15.2px;line-height:15.2px;font-weight:400;color:#666666;font-family:'Liberation Sans', Arial, sans-serif;">MEDIUM</div>
<svg class="a" style="left:1537.0px;top:735.8px;" width="272.0" height="272.0" viewBox="0 0 272.00 272.00"><path d="M136 136 L136.00 0.00 A136 136 0 0 1 272.00 136.00 Z" fill="#ff6384" stroke="#fff" stroke-width="2" stroke-linejoin="round"/><path d="M136 136 L272.00 136.00 A136 136 0 0 1 0.00 136.00 Z" fill="#4bc0c0" stroke="#fff" stroke-width="2" stroke-linejoin="round"/><path d="M136 136 L0.00 136.00 A136 136 0 0 1 136.00 0.00 Z" fill="#ffcd56" stroke="#fff" stroke-width="2" stroke-linejoin="round"/></svg>
<div class="a" style="left:1772.8px;top:684.4px;width:29.9px;height:25.1px;background:#e5e7eb;border:1px solid #d6d9de;border-radius:3px;box-sizing:border-box;opacity:0.95;"></div>
<svg class="a" style="left:1779.0px;top:688.0px;" width="18.0" height="18.0" viewBox="0 0 18.00 18.00"><g stroke="#374151" stroke-width="1.6" fill="none" stroke-linecap="round" stroke-linejoin="round"><path d="M9 1 V17 M1 9 H17 M6.5 3.5 L9 1 L11.5 3.5 M6.5 14.5 L9 17 L11.5 14.5 M3.5 6.5 L1 9 L3.5 11.5 M14.5 6.5 L17 9 L14.5 11.5"/></g></svg>
<div class="a" style="left:1814.4px;top:684.4px;width:30.6px;height:25.1px;background:#e5e7eb;border:1px solid #d6d9de;border-radius:3px;box-sizing:border-box;opacity:0.95;"></div>
<svg class="a" style="left:1820.5px;top:687.0px;" width="19.0" height="20.0" viewBox="0 0 19.00 20.00"><g stroke="#374151" stroke-width="1.7" fill="none" stroke-linecap="round" stroke-linejoin="round"><circle cx="9.5" cy="3.5" r="2.2"/><path d="M9.5 5.7 V18.5 M2 11.5 Q2.5 18.5 9.5 18.5 Q16.5 18.5 17 11.5 M5.5 9.5 H13.5"/></g></svg>
<div class="a" style="left:1857.0px;top:697.5px;width:32.3px;height:32.3px;background:#fff;border:1px solid #e5e7eb;border-radius:6px;box-sizing:border-box;"></div>
<svg class="a" style="left:1863.2px;top:703.6px;" width="20.0" height="20.0" viewBox="0 0 20 20"><g stroke="#111827" stroke-width="1.75" fill="none" stroke-linecap="butt" stroke-linejoin="miter"><path d="M1.7 10.2 A8.3 8.3 0 0 1 16.4 4.7"/><path d="M17.9 0.8 V6.4 H12.6"/><path d="M18.3 9.8 A8.3 8.3 0 0 1 3.6 15.3"/><path d="M2.1 19.2 V13.6 H7.4"/></g></svg>
<svg class="a" style="left:1886.0px;top:1001.0px;" width="7.0" height="7.0" viewBox="0 0 7.00 7.00"><path d="M6 0 V6 H0 V4 H4 V0 Z" fill="#8b8f96"/></svg>
<div class="a" style="left:1437.9px;top:683.9px;width:32.3px;height:26.8px;background:#6366f1;border-radius:2px;"></div>
<div class="t" style="left:1449.5px;top:689.8px;font-size:14.8px;line-height:14.8px;font-weight:700;color:#fff;font-family:'Liberation Sans', Arial, sans-serif;">d</div>
<div class="a" style="left:480.0px;top:1043.0px;width:1466.0px;height:387.0px;background:#fff;border-top:1.3px solid #e5e7eb;box-sizing:border-box;"></div>
<div class="t" style="left:491.2px;top:1058.1px;font-size:18.5px;line-height:18.5px;font-weight:700;color:#111827;font-family:'Liberation Sans', Arial, sans-serif;letter-spacing:0.21px;-webkit-text-stroke:0.3px #111827;">Inline scripts</div>
<div class="a" style="left:491.2px;top:1091.7px;width:344.4px;height:53.9px;background:#fff;border:1.2px solid #e5e7eb;border-radius:3px;box-sizing:border-box;"></div>
<div class="t" style="left:503.4px;top:1110.5px;font-size:16.6px;line-height:16.6px;font-weight:400;color:#111827;font-family:'Liberation Sans', Arial, sans-serif;">Shape Data</div>
<div class="a" style="left:788.3px;top:1107.6px;width:35.8px;height:25.5px;background:#6366f1;border-radius:4px;"></div>
<div class="t" style="left:801.3px;top:1112.4px;font-size:16px;line-height:16px;font-weight:700;color:#fff;font-family:'Liberation Sans', Arial, sans-serif;">b</div>
<div class="a" style="left:491.2px;top:1157.0px;width:344.4px;height:53.7px;background:#fff;border:1.2px solid #e5e7eb;border-radius:3px;box-sizing:border-box;"></div>
<div class="t" style="left:503.4px;top:1175.7px;font-size:16.6px;line-height:16.6px;font-weight:400;color:#111827;font-family:'Liberation Sans', Arial, sans-serif;">Get Status Chart Data</div>
<div class="a" style="left:788.3px;top:1173.5px;width:35.8px;height:24.7px;background:#6366f1;border-radius:4px;"></div>
<div class="t" style="left:801.8px;top:1177.5px;font-size:16px;line-height:16px;font-weight:700;color:#fff;font-family:'Liberation Sans', Arial, sans-serif;">c</div>
<div class="a" style="left:491.2px;top:1222.4px;width:344.4px;height:53.4px;background:#fff;border:1.6px solid #4f86ec;border-radius:3px;box-sizing:border-box;"></div>
<div class="t" style="left:503.4px;top:1240.9px;font-size:16.6px;line-height:16.6px;font-weight:400;color:#111827;font-family:'Liberation Sans', Arial, sans-serif;">Get Severity Chart Data</div>
<div class="a" style="left:788.3px;top:1238.6px;width:35.8px;height:25.3px;background:#6366f1;border-radius:4px;"></div>
<div class="t" style="left:801.3px;top:1243.2px;font-size:16px;line-height:16px;font-weight:700;color:#fff;font-family:'Liberation Sans', Arial, sans-serif;">d</div>
<div class="a" style="left:834.8px;top:1046.5px;width:8.7px;height:267.8px;background:#7b7b7b;border-radius:4.5px;"></div>
<div class="t" style="left:491.2px;top:1322.6px;font-size:18.5px;line-height:18.5px;font-weight:700;color:#111827;font-family:'Liberation Sans', Arial, sans-serif;letter-spacing:0.34px;-webkit-text-stroke:0.3px #111827;">Imported scripts</div>
<div class="t" style="left:491.2px;top:1358.4px;font-size:19.3px;line-height:19.3px;font-weight:400;color:#6b7280;font-family:'Liberation Sans', Arial, sans-serif;letter-spacing:-0.02px;">No items</div>
<div class="a" style="left:702.0px;top:1423.3px;width:79.6px;height:12.7px;background:#374151;border-radius:8px 8px 0 0;"></div>
<div class="a" style="left:847.5px;top:1043.0px;width:1.5px;height:387.0px;background:#e5e7eb;"></div>
<div class="a" style="left:859.3px;top:1050.0px;width:540.2px;height:39.1px;background:#fff;border:1.2px solid #d1d5db;border-radius:7px;box-sizing:border-box;"></div>
<div class="t" style="left:870.7px;top:1060.5px;font-size:19px;line-height:19px;font-weight:400;color:#111827;font-family:'Liberation Sans', Arial, sans-serif;letter-spacing:0.13px;">Get Severity Chart Data</div>
<div class="a" style="left:1483.6px;top:1056.1px;width:46.6px;height:25.9px;background:#dcfce7;border-radius:5px;"></div>
<svg class="a" style="left:1497.0px;top:1059.0px;" width="20.0" height="20.0" viewBox="0 0 20.00 20.00"><path d="M17.2 8.2 A7.8 7.8 0 1 1 13.5 3.4" stroke="#166534" stroke-width="2" fill="none" stroke-linecap="round"/><path d="M6.2 9.5 L9.5 12.8 L17.5 4.2" stroke="#166534" stroke-width="2" fill="none" stroke-linecap="round" stroke-linejoin="round"/></svg>
<div class="a" style="left:1541.2px;top:1050.4px;width:111.7px;height:38.0px;background:#fff;border:1.5px solid #5b7fae;border-radius:7px;box-sizing:border-box;"></div>
<div class="t" style="left:1558.4px;top:1061.2px;font-size:17px;line-height:17px;font-weight:700;color:#4f6f9c;font-family:'Liberation Sans', Arial, sans-serif;letter-spacing:-1.12px;">Format</div>
<div class="a" style="left:1617.4px;top:1061.6px;width:16.8px;height:16.8px;background:#4b5563;border-radius:50%;"></div>
<div class="t" style="left:1622.1px;top:1063.9px;font-size:12.2px;line-height:12.2px;font-weight:700;color:#fff;font-family:'DejaVu Sans Mono', 'Liberation Mono', monospace;">i</div>
<div class="a" style="left:1663.9px;top:1050.4px;width:85.3px;height:38.0px;background:#5b7fae;border-radius:7px;"></div>
<div class="t" style="left:1679.2px;top:1061.2px;font-size:17px;line-height:17px;font-weight:700;color:#fff;font-family:'Liberation Sans', Arial, sans-serif;letter-spacing:-1.92px;">Run</div>
<div class="a" style="left:1714.9px;top:1061.6px;width:16.8px;height:16.8px;background:#c5cdd9;border-radius:50%;"></div>
<div class="t" style="left:1719.6px;top:1063.9px;font-size:12.2px;line-height:12.2px;font-weight:700;color:#5b7fae;font-family:'DejaVu Sans Mono', 'Liberation Mono', monospace;">i</div>
<div class="a" style="left:1760.0px;top:1050.4px;width:174.5px;height:38.0px;background:#5b7fae;border-radius:7px;"></div>
<svg class="a" style="left:1776.0px;top:1061.0px;" width="20.0" height="18.0" viewBox="0 0 20.00 18.00"><g stroke="#fff" stroke-width="1.7" fill="none" stroke-linecap="round" stroke-linejoin="round"><path d="M5 3.5 L1 9 L5 14.5 M15 3.5 L19 9 L15 14.5 M11.8 1.5 L8.2 16.5"/></g></svg>
<div class="t" style="left:1801.9px;top:1061.2px;font-size:17px;line-height:17px;font-weight:700;color:#fff;font-family:'Liberation Sans', Arial, sans-serif;letter-spacing:-0.61px;">Open full editor</div>
<div class="a" style="left:849.0px;top:1094.5px;width:1097.0px;height:1.3px;background:#e5e7eb;"></div>
<div class="a" style="left:1924.3px;top:1096.0px;width:1.0px;height:334.0px;background:#e8e8e8;"></div>
<div class="a" style="left:1925.0px;top:1407.8px;width:17.0px;height:2.6px;background:#444;"></div>
<div class="a" style="left:889.0px;top:1403.6px;width:1035.3px;height:21.9px;border:2px solid #eeeeee;box-sizing:border-box;"></div>
<div class="a" style="left:888.0px;top:1096.0px;width:2.0px;height:307.6px;background:#c8cacf;"></div>
<div class="t" style="left:859.2px;top:1102.8px;font-size:15.6px;line-height:15.6px;font-weight:400;color:#8a8f98;font-family:'DejaVu Sans Mono', 'Liberation Mono', monospace;">6</div>
<div class="t" style="left:859.2px;top:1126.3px;font-size:15.6px;line-height:15.6px;font-weight:400;color:#8a8f98;font-family:'DejaVu Sans Mono', 'Liberation Mono', monospace;">7</div>
<div class="t" style="left:859.2px;top:1149.7px;font-size:15.6px;line-height:15.6px;font-weight:400;color:#8a8f98;font-family:'DejaVu Sans Mono', 'Liberation Mono', monospace;">8</div>
<div class="t" style="left:859.2px;top:1173.2px;font-size:15.6px;line-height:15.6px;font-weight:400;color:#8a8f98;font-family:'DejaVu Sans Mono', 'Liberation Mono', monospace;">9</div>
<div class="t" style="left:849.8px;top:1196.7px;font-size:15.6px;line-height:15.6px;font-weight:400;color:#8a8f98;font-family:'DejaVu Sans Mono', 'Liberation Mono', monospace;">10</div>
<div class="t" style="left:849.8px;top:1220.2px;font-size:15.6px;line-height:15.6px;font-weight:400;color:#8a8f98;font-family:'DejaVu Sans Mono', 'Liberation Mono', monospace;">11</div>
<div class="t" style="left:849.8px;top:1243.6px;font-size:15.6px;line-height:15.6px;font-weight:400;color:#8a8f98;font-family:'DejaVu Sans Mono', 'Liberation Mono', monospace;">12</div>
<div class="t" style="left:849.8px;top:1267.1px;font-size:15.6px;line-height:15.6px;font-weight:400;color:#8a8f98;font-family:'DejaVu Sans Mono', 'Liberation Mono', monospace;">13</div>
<div class="t" style="left:849.8px;top:1290.6px;font-size:15.6px;line-height:15.6px;font-weight:400;color:#8a8f98;font-family:'DejaVu Sans Mono', 'Liberation Mono', monospace;">14</div>
<div class="t" style="left:849.8px;top:1314.0px;font-size:15.6px;line-height:15.6px;font-weight:400;color:#8a8f98;font-family:'DejaVu Sans Mono', 'Liberation Mono', monospace;">15</div>
<div class="t" style="left:849.8px;top:1337.5px;font-size:15.6px;line-height:15.6px;font-weight:400;color:#8a8f98;font-family:'DejaVu Sans Mono', 'Liberation Mono', monospace;">16</div>
<div class="t" style="left:849.8px;top:1361.0px;font-size:15.6px;line-height:15.6px;font-weight:400;color:#8a8f98;font-family:'DejaVu Sans Mono', 'Liberation Mono', monospace;">17</div>
<div class="t" style="left:849.8px;top:1384.4px;font-size:15.6px;line-height:15.6px;font-weight:400;color:#8a8f98;font-family:'DejaVu Sans Mono', 'Liberation Mono', monospace;">18</div>
<div class="t" style="left:849.8px;top:1407.9px;font-size:15.6px;line-height:15.6px;font-weight:400;color:#0b216f;font-family:'DejaVu Sans Mono', 'Liberation Mono', monospace;">19</div>
<div class="a" style="left:908.2px;top:1098.5px;width:1.0px;height:23.5px;background:#d3d3d3;"></div>
<div class="a" style="left:908.2px;top:1192.4px;width:1.0px;height:93.9px;background:#d3d3d3;"></div>
<div class="a" style="left:927.5px;top:1215.8px;width:1.0px;height:23.5px;background:#d3d3d3;"></div>
<div class="a" style="left:908.2px;top:1333.2px;width:1.0px;height:47.0px;background:#d3d3d3;"></div>
<div class="t" style="left:926.9px;top:1102.8px;font-size:15.55px;line-height:15.55px;font-weight:400;color:#000;font-family:'DejaVu Sans Mono', 'Liberation Mono', monospace;"><span style="color:#7b3814">}</span><span style="color:#000000">;</span></div>
<div class="t" style="left:908.2px;top:1126.3px;font-size:15.55px;line-height:15.55px;font-weight:400;color:#000;font-family:'DejaVu Sans Mono', 'Liberation Mono', monospace;"><span style="color:#319331">}</span></div>
<div class="t" style="left:908.2px;top:1149.8px;font-size:15.55px;line-height:15.55px;font-weight:400;color:#000;font-family:'DejaVu Sans Mono', 'Liberation Mono', monospace;"><span style="color:#0000ff">const</span><span style="color:#000000"> values: </span><span style="color:#267f99">Record</span><span style="color:#000000">&lt;</span><span style="color:#0000ff">string</span><span style="color:#000000">, </span><span style="color:#0000ff">number</span><span style="color:#000000">&gt; = </span><span style="color:#319331">{}</span><span style="color:#000000">;</span></div>
<div class="t" style="left:908.2px;top:1173.3px;font-size:15.55px;line-height:15.55px;font-weight:400;color:#000;font-family:'DejaVu Sans Mono', 'Liberation Mono', monospace;"><span style="color:#000000">issues.forEach</span><span style="color:#319331">(</span><span style="color:#7b3814">(</span><span style="color:#0431fa">{</span><span style="color:#000000"> severity </span><span style="color:#0431fa">}</span><span style="color:#7b3814">)</span><span style="color:#000000"> =&gt; </span><span style="color:#7b3814">{</span></div>
<div class="t" style="left:926.9px;top:1196.7px;font-size:15.55px;line-height:15.55px;font-weight:400;color:#000;font-family:'DejaVu Sans Mono', 'Liberation Mono', monospace;"><span style="color:#0000ff">if</span><span style="color:#000000"> </span><span style="color:#0431fa">(</span><span style="color:#000000">!values</span><span style="color:#319331">[</span><span style="color:#000000">severity</span><span style="color:#319331">]</span><span style="color:#0431fa">)</span><span style="color:#000000"> </span><span style="color:#0431fa">{</span></div>
<div class="t" style="left:945.7px;top:1220.2px;font-size:15.55px;line-height:15.55px;font-weight:400;color:#000;font-family:'DejaVu Sans Mono', 'Liberation Mono', monospace;"><span style="color:#000000">values</span><span style="color:#319331">[</span><span style="color:#000000">severity</span><span style="color:#319331">]</span><span style="color:#000000"> = </span><span style="color:#098658">0</span><span style="color:#000000">;</span></div>
<div class="t" style="left:926.9px;top:1243.7px;font-size:15.55px;line-height:15.55px;font-weight:400;color:#000;font-family:'DejaVu Sans Mono', 'Liberation Mono', monospace;"><span style="color:#0431fa">}</span></div>
<div class="t" style="left:926.9px;top:1267.1px;font-size:15.55px;line-height:15.55px;font-weight:400;color:#000;font-family:'DejaVu Sans Mono', 'Liberation Mono', monospace;"><span style="color:#000000">values</span><span style="color:#0431fa">[</span><span style="color:#000000">severity</span><span style="color:#0431fa">]</span><span style="color:#000000">++;</span></div>
<div class="t" style="left:908.2px;top:1290.6px;font-size:15.55px;line-height:15.55px;font-weight:400;color:#000;font-family:'DejaVu Sans Mono', 'Liberation Mono', monospace;"><span style="color:#7b3814">}</span><span style="color:#319331">)</span><span style="color:#000000">;</span></div>
<div class="t" style="left:908.2px;top:1314.1px;font-size:15.55px;line-height:15.55px;font-weight:400;color:#000;font-family:'DejaVu Sans Mono', 'Liberation Mono', monospace;"><span style="color:#0000ff">return</span><span style="color:#000000"> </span><span style="color:#319331">{</span></div>
<div class="t" style="left:926.9px;top:1337.5px;font-size:15.55px;line-height:15.55px;font-weight:400;color:#000;font-family:'DejaVu Sans Mono', 'Liberation Mono', monospace;"><span style="color:#000000">labels: </span><span style="color:#267f99">Object</span><span style="color:#000000">.keys</span><span style="color:#7b3814">(</span><span style="color:#000000">values</span><span style="color:#7b3814">)</span><span style="color:#000000">,</span></div>
<div class="t" style="left:926.9px;top:1361.0px;font-size:15.55px;line-height:15.55px;font-weight:400;color:#000;font-family:'DejaVu Sans Mono', 'Liberation Mono', monospace;"><span style="color:#000000">data: </span><span style="color:#267f99">Object</span><span style="color:#000000">.values</span><span style="color:#7b3814">(</span><span style="color:#000000">values</span><span style="color:#7b3814">)</span><span style="color:#000000">,</span></div>
<div class="t" style="left:908.2px;top:1384.5px;font-size:15.55px;line-height:15.55px;font-weight:400;color:#000;font-family:'DejaVu Sans Mono', 'Liberation Mono', monospace;"><span style="color:#319331">}</span><span style="color:#000000">;</span></div>
<div class="t" style="left:889.5px;top:1408.0px;font-size:15.55px;line-height:15.55px;font-weight:400;color:#000;font-family:'DejaVu Sans Mono', 'Liberation Mono', monospace;"><span style="color:#0431fa">}</span></div>
<div class="a" style="left:1945.0px;top:205.5px;width:482.0px;height:1224.5px;background:#fff;border-left:1.5px solid #e2e4e8;box-sizing:border-box;"></div>
<svg class="a" style="left:1972.5px;top:219.5px;" width="17.5" height="17.5" viewBox="0 0 17.50 17.50"><path d="M8.75 1 V16.5 M1 8.75 H16.5" stroke="#374151" stroke-width="2" stroke-linecap="round"/></svg>
<div class="t" style="left:2001.6px;top:219.4px;font-size:17.5px;line-height:17.5px;font-weight:400;color:#374151;font-family:'Liberation Sans', Arial, sans-serif;letter-spacing:-0.19px;">Insert</div>
<svg class="a" style="left:2096.5px;top:217.5px;" width="22.0" height="20.0" viewBox="0 0 22.00 20.00"><g stroke="#111827" stroke-width="1.9" fill="none" stroke-linecap="round"><path d="M1 4 H21 M1 10 H21 M1 16 H21"/></g><g fill="#fff" stroke="#111827" stroke-width="1.8"><circle cx="7" cy="4" r="2.6"/><circle cx="14.5" cy="10" r="2.6"/><circle cx="7" cy="16" r="2.6"/></g></svg>
<div class="t" style="left:2129.0px;top:219.4px;font-size:17.5px;line-height:17.5px;font-weight:400;color:#111827;font-family:'Liberation Sans', Arial, sans-serif;letter-spacing:-0.32px;">Settings</div>
<div class="a" style="left:1946.5px;top:250.9px;width:480.5px;height:1.3px;background:#e5e7eb;"></div>
<div class="a" style="left:2071.0px;top:248.2px;width:145.8px;height:2.6px;background:#374151;"></div>
<div class="t" style="left:1957.0px;top:267.4px;font-size:19px;line-height:19px;font-weight:700;color:#111827;font-family:'Liberation Sans', Arial, sans-serif;letter-spacing:0.14px;-webkit-text-stroke:0.3px #111827;">Input</div>
<div class="a" style="left:2156.8px;top:263.0px;width:29.8px;height:27.0px;background:#6366f1;border-radius:3px;"></div>
<div class="t" style="left:2166.8px;top:269.1px;font-size:16px;line-height:16px;font-weight:700;color:#fff;font-family:'Liberation Sans', Arial, sans-serif;">d</div>
<div class="a" style="left:2340.0px;top:264.0px;width:75.7px;height:24.5px;background:#dbeafe;border-radius:5px;"></div>
<div class="t" style="left:2352.9px;top:268.3px;font-size:16px;line-height:16px;font-weight:700;color:#1e40af;font-family:'Liberation Sans', Arial, sans-serif;">Object</div>
<div class="a" style="left:1957.5px;top:301.8px;width:457.4px;height:36.8px;background:#fff;border:1px solid #d1d5db;border-radius:8px;box-sizing:border-box;"></div>
<div class="a" style="left:2109.2px;top:301.8px;width:1.0px;height:36.8px;background:#d1d5db;"></div>
<div class="a" style="left:2263.2px;top:301.8px;width:151.7px;height:36.8px;background:#374151;border-radius:0 8px 8px 0;"></div>
<svg class="a" style="left:2001.5px;top:312.5px;" width="15.0" height="15.0" viewBox="0 0 15.00 15.00"><path d="M10.5 1.2 L13.8 4.5 L5 13.3 L1 14.2 L1.9 10.2 Z" fill="#374151"/></svg>
<div class="t" style="left:2021.9px;top:311.5px;font-size:16.5px;line-height:16.5px;font-weight:700;color:#374151;font-family:'Liberation Sans', Arial, sans-serif;letter-spacing:-0.31px;">Static</div>
<svg class="a" style="left:2144.5px;top:313.0px;" width="14.5" height="14.0" viewBox="0 0 14.50 14.00"><g stroke="#374151" stroke-width="1.8" fill="none" stroke-linecap="round" stroke-linejoin="round"><path d="M1 7 H13 M7.5 1.5 L13 7 L7.5 12.5"/></g></svg>
<div class="t" style="left:2163.7px;top:311.5px;font-size:16.5px;line-height:16.5px;font-weight:700;color:#374151;font-family:'Liberation Sans', Arial, sans-serif;letter-spacing:-0.45px;">Connect</div>
<svg class="a" style="left:2293.5px;top:313.0px;" width="16.5" height="14.5" viewBox="0 0 16.50 14.50"><g stroke="#fff" stroke-width="1.6" fill="none" stroke-linecap="round" stroke-linejoin="round"><path d="M4.5 3 L1 7.2 L4.5 11.4 M12 3 L15.5 7.2 L12 11.4 M9.8 1 L6.7 13.5"/></g></svg>
<div class="t" style="left:2314.9px;top:311.5px;font-size:16.5px;line-height:16.5px;font-weight:700;color:#fff;font-family:'Liberation Sans', Arial, sans-serif;letter-spacing:-0.42px;">Compute</div>
<div class="t" style="left:1957.0px;top:361.9px;font-size:16.7px;line-height:16.7px;font-weight:700;color:#111827;font-family:'Liberation Sans', Arial, sans-serif;letter-spacing:-0.37px;">Get Severity Chart Data</div>
<div class="a" style="left:1957.5px;top:387.6px;width:81.3px;height:37.7px;background:#fff;border:1px solid #d1d5db;border-radius:7px;box-sizing:border-box;"></div>
<svg class="a" style="left:1973.0px;top:398.5px;" width="15.5" height="15.5" viewBox="0 0 15.50 15.50"><g stroke="#374151" stroke-width="1.7" fill="none" stroke-linecap="round" stroke-linejoin="round"><path d="M7 2.5 H3 Q1.5 2.5 1.5 4 V12.5 Q1.5 14 3 14 H11.5 Q13 14 13 12.5 V8.5"/></g><path d="M12 1 L14.5 3.5 L8 10 L5 10.8 L5.8 7.8 Z" fill="#374151"/></svg>
<div class="t" style="left:1994.1px;top:397.9px;font-size:16.7px;line-height:16.7px;font-weight:700;color:#374151;font-family:'Liberation Sans', Arial, sans-serif;letter-spacing:-1.05px;">Edit</div>
<div class="a" style="left:2045.4px;top:387.6px;width:108.8px;height:37.7px;background:#fff;border:1px solid #d1d5db;border-radius:7px;box-sizing:border-box;"></div>
<div class="t" style="left:2062.7px;top:397.9px;font-size:16.7px;line-height:16.7px;font-weight:700;color:#374151;font-family:'Liberation Sans', Arial, sans-serif;letter-spacing:-0.56px;">Detach</div>
<div class="a" style="left:2119.0px;top:399.0px;width:16.6px;height:16.6px;background:#6b7280;border-radius:50%;"></div>
<div class="t" style="left:2123.7px;top:401.3px;font-size:12.0px;line-height:12.0px;font-weight:700;color:#fff;font-family:'DejaVu Sans Mono', 'Liberation Mono', monospace;">i</div>
<div class="a" style="left:2160.3px;top:387.6px;width:87.5px;height:37.7px;background:#fff;border:1.5px solid #dc2626;border-radius:7px;box-sizing:border-box;"></div>
<svg class="a" style="left:2176.5px;top:401.0px;" width="10.5" height="10.5" viewBox="0 0 10.50 10.50"><path d="M1 1 L9.5 9.5 M9.5 1 L1 9.5" stroke="#dc2626" stroke-width="2" stroke-linecap="round"/></svg>
<div class="t" style="left:2192.2px;top:397.9px;font-size:16.7px;line-height:16.7px;font-weight:700;color:#dc2626;font-family:'Liberation Sans', Arial, sans-serif;letter-spacing:-0.82px;">Clear</div>
<div class="a" style="left:1957.5px;top:447.6px;width:458.2px;height:235.4px;background:#fff;border:1.2px solid #e5e7eb;box-sizing:border-box;"></div>
<div class="t" style="left:1968.8px;top:465.3px;font-size:19px;line-height:19px;font-weight:700;color:#111827;font-family:'Liberation Sans', Arial, sans-serif;letter-spacing:-0.16px;-webkit-text-stroke:0.3px #111827;">Runnable Inputs (1)</div>
<div class="a" style="left:2385.3px;top:467.3px;width:17.0px;height:17.0px;background:#6b7280;border-radius:50%;"></div>
<div class="t" style="left:2390.1px;top:469.6px;font-size:12.3px;line-height:12.3px;font-weight:700;color:#fff;font-family:'DejaVu Sans Mono', 'Liberation Mono', monospace;">i</div>
<div class="t" style="left:1968.8px;top:510.0px;font-size:19.5px;line-height:19.5px;font-weight:700;color:#111827;font-family:'Liberation Sans', Arial, sans-serif;letter-spacing:-0.84px;-webkit-text-stroke:0.3px #111827;">issues</div>
<div class="a" style="left:2187.2px;top:504.2px;width:66.6px;height:25.3px;background:#dbeafe;border-radius:5px;"></div>
<div class="t" style="left:2200.2px;top:508.9px;font-size:16px;line-height:16px;font-weight:700;color:#1e40af;font-family:'Liberation Sans', Arial, sans-serif;letter-spacing:-0.33px;">Array</div>
<div class="a" style="left:2265.1px;top:501.6px;width:138.2px;height:30.3px;background:#fff;border:1px solid #d1d5db;border-radius:7px;box-sizing:border-box;"></div>
<div class="a" style="left:2312.4px;top:501.6px;width:1.0px;height:30.3px;background:#d1d5db;"></div>
<div class="a" style="left:2359.0px;top:501.6px;width:44.3px;height:30.3px;background:#374151;border-radius:0 7px 7px 0;"></div>
<svg class="a" style="left:2281.0px;top:509.5px;" width="15.0" height="15.0" viewBox="0 0 15.00 15.00"><path d="M10.5 1.2 L13.8 4.5 L5 13.3 L1 14.2 L1.9 10.2 Z" fill="#374151"/></svg>
<svg class="a" style="left:2329.0px;top:509.0px;" width="14.0" height="15.0" viewBox="0 0 14.00 15.00"><circle cx="7" cy="4" r="3.3" fill="#374151"/><path d="M0.8 14.5 Q0.8 8.8 7 8.8 Q13.2 8.8 13.2 14.5 Z" fill="#374151"/></svg>
<svg class="a" style="left:2373.5px;top:510.0px;" width="16.0" height="14.0" viewBox="0 0 16.00 14.00"><g stroke="#fff" stroke-width="1.9" fill="none" stroke-linecap="round" stroke-linejoin="round"><path d="M1 7 H14.5 M8.5 1 L14.5 7 L8.5 13"/></g></svg>
<div class="t" style="left:1968.8px;top:540.3px;font-size:16.5px;line-height:16.5px;font-weight:400;color:#111827;font-family:'Liberation Sans', Arial, sans-serif;letter-spacing:0.04px;">Status</div>
<div class="a" style="left:2295.0px;top:539.0px;width:109.0px;height:25.3px;background:#dcfce7;border-radius:5px;"></div>
<div class="t" style="left:2308.0px;top:543.7px;font-size:16px;line-height:16px;font-weight:700;color:#166534;font-family:'Liberation Sans', Arial, sans-serif;letter-spacing:0.04px;">Connected</div>
<div class="t" style="left:1968.8px;top:572.0px;font-size:16.5px;line-height:16.5px;font-weight:400;color:#111827;font-family:'Liberation Sans', Arial, sans-serif;letter-spacing:0.09px;">Component</div>
<div class="a" style="left:2341.3px;top:570.3px;width:62.7px;height:24.8px;background:#e0e7ff;border-radius:5px;"></div>
<div class="t" style="left:2354.7px;top:574.8px;font-size:16px;line-height:16px;font-weight:700;color:#3730a3;font-family:'Liberation Sans', Arial, sans-serif;letter-spacing:-0.45px;">bg_0</div>
<div class="t" style="left:1968.8px;top:603.0px;font-size:16.5px;line-height:16.5px;font-weight:400;color:#111827;font-family:'Liberation Sans', Arial, sans-serif;letter-spacing:-0.31px;">Path</div>
<div class="a" style="left:2335.7px;top:601.5px;width:68.3px;height:25.5px;background:#e0e7ff;border-radius:5px;"></div>
<div class="t" style="left:2348.6px;top:606.3px;font-size:16px;line-height:16px;font-weight:700;color:#3730a3;font-family:'Liberation Sans', Arial, sans-serif;letter-spacing:-0.21px;">result</div>
<div class="a" style="left:1968.8px;top:632.9px;width:435.5px;height:38.4px;background:#fff;border:1.5px solid #dc2626;border-radius:7px;box-sizing:border-box;"></div>
<svg class="a" style="left:2136.0px;top:646.5px;" width="10.5" height="10.5" viewBox="0 0 10.50 10.50"><path d="M1 1 L9.5 9.5 M9.5 1 L1 9.5" stroke="#dc2626" stroke-width="2" stroke-linecap="round"/></svg>
<div class="t" style="left:2151.5px;top:643.8px;font-size:17px;line-height:17px;font-weight:700;color:#dc2626;font-family:'Liberation Sans', Arial, sans-serif;letter-spacing:-0.68px;">Disconnect</div>
<div class="a" style="left:1946.5px;top:694.0px;width:480.5px;height:1.3px;background:#e5e7eb;"></div>
<div class="t" style="left:1967.8px;top:720.2px;font-size:19.5px;line-height:19.5px;font-weight:700;color:#111827;font-family:'Liberation Sans', Arial, sans-serif;letter-spacing:-0.04px;-webkit-text-stroke:0.3px #111827;">Configuration (2)</div>
<div class="t" style="left:1967.8px;top:757.3px;font-size:18.3px;line-height:18.3px;font-weight:700;color:#111827;font-family:'Liberation Sans', Arial, sans-serif;letter-spacing:0.38px;">Theme</div>
<div class="a" style="left:2334.3px;top:753.6px;width:71.0px;height:24.8px;background:#dbeafe;border-radius:5px;"></div>
<div class="t" style="left:2347.1px;top:758.1px;font-size:16px;line-height:16px;font-weight:700;color:#1e40af;font-family:'Liberation Sans', Arial, sans-serif;letter-spacing:-0.14px;">String</div>
<div class="a" style="left:1967.8px;top:785.2px;width:437.5px;height:43.1px;background:#fff;border:1.2px solid #d1d5db;border-radius:8px;box-sizing:border-box;"></div>
<div class="t" style="left:1979.9px;top:797.5px;font-size:18.5px;line-height:18.5px;font-weight:400;color:#111827;font-family:'Liberation Sans', Arial, sans-serif;letter-spacing:0.06px;">theme1</div>
<svg class="a" style="left:2374.0px;top:802.0px;" width="14.0" height="9.0" viewBox="0 0 14.00 9.00"><path d="M1 1 L7 7 L13 1" stroke="#4b5563" stroke-width="1.8" fill="none" stroke-linecap="round" stroke-linejoin="round"/></svg>
<div class="t" style="left:1967.8px;top:853.8px;font-size:18.3px;line-height:18.3px;font-weight:700;color:#111827;font-family:'Liberation Sans', Arial, sans-serif;letter-spacing:0.06px;">Doughnut Style</div>
<div class="a" style="left:2318.7px;top:850.3px;width:86.6px;height:25.3px;background:#dbeafe;border-radius:5px;"></div>
<div class="t" style="left:2331.6px;top:855.0px;font-size:16px;line-height:16px;font-weight:700;color:#1e40af;font-family:'Liberation Sans', Arial, sans-serif;letter-spacing:-0.39px;">Boolean</div>
<div class="a" style="left:1967.8px;top:892.0px;width:56.8px;height:30.3px;background:#e5e7eb;border-radius:16px;"></div>
<div class="a" style="left:1970.5px;top:894.8px;width:24.8px;height:24.8px;background:#fff;border-radius:50%;box-shadow:0 1px 2px rgba(0,0,0,0.25);"></div>
<div class="a" style="left:1946.5px;top:952.5px;width:480.5px;height:1.3px;background:#e5e7eb;"></div>
<div class="t" style="left:1967.8px;top:978.1px;font-size:19px;line-height:19px;font-weight:700;color:#111827;font-family:'Liberation Sans', Arial, sans-serif;letter-spacing:-0.10px;-webkit-text-stroke:0.3px #111827;">Danger zone</div>
<div class="a" style="left:1967.3px;top:1011.9px;width:209.3px;height:37.9px;background:#fff;border:1.5px solid #dc2626;border-radius:7px;box-sizing:border-box;"></div>
<svg class="a" style="left:1984.5px;top:1022.5px;" width="12.5" height="15.0" viewBox="0 0 12.50 15.00"><path d="M1 2.8 H11.5 M4.2 2.8 V1 H8.3 V2.8" stroke="#dc2626" stroke-width="1.6" fill="none"/><path d="M2 4.5 H10.5 L9.8 14.5 H2.7 Z" fill="#dc2626"/><path d="M4.7 6.5 V12.5 M6.25 6.5 V12.5 M7.8 6.5 V12.5" stroke="#fff" stroke-width="0.9"/></svg>
<div class="t" style="left:2002.0px;top:1021.9px;font-size:17.3px;line-height:17.3px;font-weight:700;color:#dc2626;font-family:'Liberation Sans', Arial, sans-serif;letter-spacing:-0.78px;">Delete component: d</div>
</div>
<div class="a" style="left:72px;top:49px;width:2355px;height:1381px;border-radius:12px;box-shadow:inset 0 1.2px 0 rgba(255,255,255,0.30), inset 2.5px 0 0 rgba(255,255,255,0.10), inset -2px 0 0 rgba(255,255,255,0.08);pointer-events:none;"></div>
</body></html>
